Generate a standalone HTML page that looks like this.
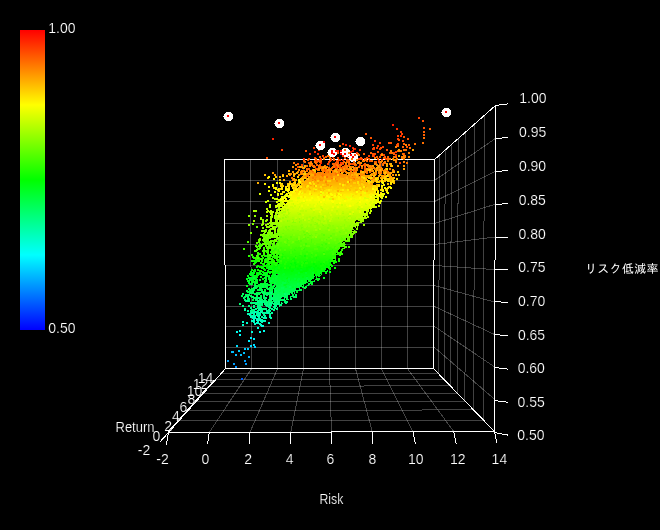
<!DOCTYPE html>
<html lang="ja"><head><meta charset="utf-8"><title>Risk / Return 3D scatter</title>
<style>
html,body{margin:0;padding:0;background:#000;}
body{width:660px;height:530px;overflow:hidden;}
svg{display:block;}
.grid line{stroke:#fff;stroke-opacity:.26;stroke-width:1;}
.frame line{stroke:#fff;stroke-width:1;}
.mk path{fill:#fff;}
.mk rect{fill:#f00;}
.tx text{fill:#fff;stroke:#000;stroke-width:.2px;font-family:"Liberation Sans","IPAGothic",sans-serif;font-size:14px;}
</style></head><body>
<svg width="660" height="530" viewBox="0 0 660 530" shape-rendering="crispEdges">
<defs><linearGradient id="cb" x1="0" y1="0" x2="0" y2="1">
<stop offset="0" stop-color="#f00"/><stop offset=".25" stop-color="#ff0"/><stop offset=".5" stop-color="#0f0"/><stop offset=".75" stop-color="#0ff"/><stop offset="1" stop-color="#00f"/>
</linearGradient></defs>
<rect width="660" height="530" fill="#000"/>
<rect x="20" y="30" width="25" height="300" fill="url(#cb)"/>
<g class="grid">
<line x1="250.5" y1="159.5" x2="251.5" y2="368.5"/>
<line x1="277.5" y1="159.5" x2="277.5" y2="368.5"/>
<line x1="303.5" y1="159.5" x2="303.5" y2="368.5"/>
<line x1="329.5" y1="159.5" x2="329.5" y2="368.5"/>
<line x1="355.5" y1="159.5" x2="355.5" y2="368.5"/>
<line x1="381.5" y1="159.5" x2="381.5" y2="368.5"/>
<line x1="407.5" y1="159.5" x2="407.5" y2="368.5"/>
<line x1="224.5" y1="180.5" x2="434.5" y2="180.5"/>
<line x1="224.5" y1="201.5" x2="434.5" y2="201.5"/>
<line x1="224.5" y1="223.5" x2="434.5" y2="223.5"/>
<line x1="224.5" y1="244.5" x2="434.5" y2="244.5"/>
<line x1="224.5" y1="265.5" x2="434.5" y2="265.5"/>
<line x1="224.5" y1="285.5" x2="434.5" y2="285.5"/>
<line x1="224.5" y1="306.5" x2="434.5" y2="306.5"/>
<line x1="224.5" y1="326.5" x2="434.5" y2="326.5"/>
<line x1="224.5" y1="347.5" x2="434.5" y2="347.5"/>
<line x1="251.6" y1="368.5" x2="209.3" y2="432.4"/>
<line x1="178.9" y1="420.8" x2="483.3" y2="420.0"/>
<line x1="277.6" y1="368.5" x2="250.0" y2="432.2"/>
<line x1="188.1" y1="410.5" x2="473.6" y2="409.9"/>
<line x1="303.5" y1="368.5" x2="290.8" y2="432.1"/>
<line x1="196.2" y1="401.5" x2="464.9" y2="401.0"/>
<line x1="329.5" y1="368.5" x2="331.5" y2="432.0"/>
<line x1="203.4" y1="393.4" x2="457.2" y2="393.0"/>
<line x1="355.5" y1="368.5" x2="372.3" y2="431.9"/>
<line x1="209.8" y1="386.2" x2="450.3" y2="385.9"/>
<line x1="381.4" y1="368.5" x2="413.0" y2="431.8"/>
<line x1="215.6" y1="379.7" x2="444.1" y2="379.6"/>
<line x1="407.4" y1="368.5" x2="453.8" y2="431.6"/>
<line x1="220.8" y1="373.8" x2="438.5" y2="373.8"/>
<line x1="484.4" y1="115.4" x2="483.3" y2="420.0"/>
<line x1="474.6" y1="124.0" x2="473.6" y2="409.9"/>
<line x1="466.0" y1="131.7" x2="464.9" y2="401.0"/>
<line x1="458.3" y1="138.5" x2="457.2" y2="393.0"/>
<line x1="451.5" y1="144.5" x2="450.3" y2="385.9"/>
<line x1="445.3" y1="150.0" x2="444.1" y2="379.6"/>
<line x1="439.7" y1="155.0" x2="438.5" y2="373.8"/>
<line x1="434.5" y1="180.5" x2="495.4" y2="138.5"/>
<line x1="434.5" y1="201.5" x2="495.3" y2="171.4"/>
<line x1="434.5" y1="223.5" x2="495.2" y2="204.2"/>
<line x1="434.5" y1="244.5" x2="495.1" y2="237.0"/>
<line x1="434.5" y1="265.5" x2="495.0" y2="269.6"/>
<line x1="434.5" y1="285.5" x2="494.9" y2="302.2"/>
<line x1="434.5" y1="306.5" x2="494.8" y2="334.6"/>
<line x1="434.5" y1="326.5" x2="494.7" y2="367.0"/>
<line x1="434.5" y1="347.5" x2="494.6" y2="399.3"/>
</g>
<g class="frame">
<line x1="224.4" y1="159.5" x2="434.6" y2="159.5"/>
<line x1="434.6" y1="159.5" x2="433.4" y2="368.5"/>
<line x1="433.4" y1="368.5" x2="225.6" y2="368.5"/>
<line x1="225.6" y1="368.5" x2="224.4" y2="159.5"/>
</g>
<g class="pts"><linearGradient id="cg" gradientUnits="userSpaceOnUse" x1="0" y1="150" x2="0" y2="340"><stop offset="0.0000" stop-color="#ff3a00"/><stop offset="0.0263" stop-color="#ff4600"/><stop offset="0.0526" stop-color="#ff5200"/><stop offset="0.0789" stop-color="#ff6500"/><stop offset="0.1053" stop-color="#ff7800"/><stop offset="0.1316" stop-color="#ff8d00"/><stop offset="0.1579" stop-color="#ffa400"/><stop offset="0.1842" stop-color="#ffbb00"/><stop offset="0.2105" stop-color="#ffd200"/><stop offset="0.2368" stop-color="#ffee00"/><stop offset="0.2632" stop-color="#f9ff00"/><stop offset="0.2895" stop-color="#e5ff00"/><stop offset="0.3158" stop-color="#d2ff00"/><stop offset="0.3421" stop-color="#bfff00"/><stop offset="0.3684" stop-color="#adff00"/><stop offset="0.3947" stop-color="#9bff00"/><stop offset="0.4211" stop-color="#89ff00"/><stop offset="0.4474" stop-color="#77ff00"/><stop offset="0.4737" stop-color="#64ff00"/><stop offset="0.5000" stop-color="#51ff00"/><stop offset="0.5263" stop-color="#3eff00"/><stop offset="0.5526" stop-color="#2cff00"/><stop offset="0.5789" stop-color="#1bff00"/><stop offset="0.6053" stop-color="#0aff00"/><stop offset="0.6316" stop-color="#00ff07"/><stop offset="0.6579" stop-color="#00ff17"/><stop offset="0.6842" stop-color="#00ff28"/><stop offset="0.7105" stop-color="#00ff39"/><stop offset="0.7368" stop-color="#00ff4a"/><stop offset="0.7632" stop-color="#00ff5a"/><stop offset="0.7895" stop-color="#00ff6b"/><stop offset="0.8158" stop-color="#00ff80"/><stop offset="0.8421" stop-color="#00ff96"/><stop offset="0.8684" stop-color="#00ffab"/><stop offset="0.8947" stop-color="#00ffc1"/><stop offset="0.9211" stop-color="#00ffd6"/><stop offset="0.9474" stop-color="#00ffeb"/><stop offset="0.9737" stop-color="#00fffe"/><stop offset="1.0000" stop-color="#00eeff"/></linearGradient>
<polygon fill="url(#cg)" points="325.0,173.0 340.0,173.0 358.0,177.0 372.0,185.0 376.0,197.0 372.0,208.0 368.0,213.0 360.0,222.5 352.0,235.5 343.0,249.0 335.0,260.5 325.0,273.0 312.0,282.0 303.0,286.5 293.0,295.5 282.0,303.5 277.5,307.5 275.0,306.0 273.0,300.0 274.0,292.0 276.0,285.0 278.0,274.7 279.0,258.0 279.0,241.3 278.0,224.7 281.0,208.0 287.0,203.0 292.0,195.0 298.0,187.0 306.0,179.0 318.0,172.0"/>
<path fill="#0060ff" d="M241 378h2v2h-2z"/>
<path fill="#008fff" d="M235 366h2v2h-2z"/>
<path fill="#009fff" d="M227 360h2v2h-2zM233 363h2v2h-2zM244 360h2v2h-2zM245 363h2v2h-2z"/>
<path fill="#00afff" d="M248 356h2v2h-2z"/>
<path fill="#00bfff" d="M231 351h2v2h-2zM232 351h2v2h-2zM235 354h2v2h-2zM240 354h2v2h-2zM243 352h2v2h-2z"/>
<path fill="#00cfff" d="M254 346h2v2h-2zM238 350h2v2h-2zM244 348h2v2h-2zM247 348h2v2h-2z"/>
<path fill="#00dfff" d="M236 345h2v2h-2zM250 345h2v2h-2zM253 344h2v2h-2z"/>
<path fill="#00efff" d="M250 337h2v2h-2zM253 338h2v2h-2zM248 340h2v2h-2z"/>
<path fill="#00ff00" d="M265 258h2v2h-2zM277 260h2v2h-2zM277 261h2v2h-2zM254 262h2v2h-2zM267 262h2v2h-2zM270 262h2v2h-2zM273 262h2v2h-2zM272 263h2v2h-2zM266 264h2v2h-2zM268 264h2v2h-2zM276 264h2v2h-2zM263 265h2v2h-2zM268 265h2v2h-2zM273 265h2v2h-2zM275 265h2v2h-2zM277 265h2v2h-2zM259 266h2v2h-2zM260 266h2v2h-2zM262 266h2v2h-2zM266 266h2v2h-2zM272 266h2v2h-2zM274 266h2v2h-2zM277 266h2v2h-2zM266 267h2v2h-2zM271 267h2v2h-2zM272 267h2v2h-2zM273 267h2v2h-2zM329 267h2v2h-2zM263 268h2v2h-2zM269 268h2v2h-2zM276 268h2v2h-2zM251 269h2v2h-2zM264 269h2v2h-2zM273 269h2v2h-2zM259 270h2v2h-2zM274 270h2v2h-2zM267 271h2v2h-2zM274 271h2v2h-2zM256 272h2v2h-2zM258 272h2v2h-2zM268 275h2v2h-2zM305 260h2v2h-2zM294 262h2v2h-2zM303 262h2v2h-2zM329 262h2v2h-2zM285 263h2v2h-2zM290 263h2v2h-2zM313 263h2v2h-2zM320 263h2v2h-2zM323 263h2v2h-2zM295 264h2v2h-2zM320 264h2v2h-2zM299 265h2v2h-2zM315 265h2v2h-2zM326 265h2v2h-2zM283 266h2v2h-2zM290 266h2v2h-2zM294 266h2v2h-2zM308 266h2v2h-2zM310 266h2v2h-2zM280 267h2v2h-2zM289 267h2v2h-2zM306 267h2v2h-2zM313 267h2v2h-2zM317 267h2v2h-2zM284 268h2v2h-2zM297 268h2v2h-2zM300 268h2v2h-2zM319 268h2v2h-2zM277 269h2v2h-2zM292 269h2v2h-2zM306 269h2v2h-2zM313 269h2v2h-2zM291 270h2v2h-2zM303 270h2v2h-2zM305 270h2v2h-2zM300 271h2v2h-2zM301 271h2v2h-2zM315 271h2v2h-2zM314 272h2v2h-2zM334 267h2v2h-2zM331 265h2v2h-2zM329 268h2v2h-2z"/>
<path fill="#00ff10" d="M271 262h2v2h-2zM271 265h2v2h-2zM256 266h2v2h-2zM268 267h2v2h-2zM276 267h2v2h-2zM268 268h2v2h-2zM270 268h2v2h-2zM275 268h2v2h-2zM254 269h2v2h-2zM326 269h2v2h-2zM253 270h2v2h-2zM254 270h2v2h-2zM267 270h2v2h-2zM273 270h2v2h-2zM250 271h2v2h-2zM259 271h2v2h-2zM262 271h2v2h-2zM268 271h2v2h-2zM253 272h2v2h-2zM257 272h2v2h-2zM259 272h2v2h-2zM263 272h2v2h-2zM265 272h2v2h-2zM269 272h2v2h-2zM273 272h2v2h-2zM275 272h2v2h-2zM276 272h2v2h-2zM259 273h2v2h-2zM260 273h2v2h-2zM266 273h2v2h-2zM272 273h2v2h-2zM252 274h2v2h-2zM256 274h2v2h-2zM257 274h2v2h-2zM263 274h2v2h-2zM247 275h2v2h-2zM254 275h2v2h-2zM267 275h2v2h-2zM272 275h2v2h-2zM273 275h2v2h-2zM256 276h2v2h-2zM253 278h2v2h-2zM262 278h2v2h-2zM272 281h2v2h-2zM278 264h2v2h-2zM292 266h2v2h-2zM311 267h2v2h-2zM324 267h2v2h-2zM312 268h2v2h-2zM294 269h2v2h-2zM300 269h2v2h-2zM309 269h2v2h-2zM321 269h2v2h-2zM282 270h2v2h-2zM295 270h2v2h-2zM297 270h2v2h-2zM321 270h2v2h-2zM279 271h2v2h-2zM294 271h2v2h-2zM304 272h2v2h-2zM290 273h2v2h-2zM299 273h2v2h-2zM316 273h2v2h-2zM319 274h2v2h-2zM302 276h2v2h-2zM306 276h2v2h-2zM286 277h2v2h-2zM311 280h2v2h-2zM329 271h2v2h-2zM325 272h2v2h-2z"/>
<path fill="#00ff20" d="M269 266h2v2h-2zM275 270h2v2h-2zM326 270h2v2h-2zM270 271h2v2h-2zM251 272h2v2h-2zM266 272h2v2h-2zM249 273h2v2h-2zM322 273h2v2h-2zM250 274h2v2h-2zM251 274h2v2h-2zM262 274h2v2h-2zM265 274h2v2h-2zM273 274h2v2h-2zM252 275h2v2h-2zM253 275h2v2h-2zM265 275h2v2h-2zM271 275h2v2h-2zM274 275h2v2h-2zM276 275h2v2h-2zM260 276h2v2h-2zM271 276h2v2h-2zM272 276h2v2h-2zM251 277h2v2h-2zM254 277h2v2h-2zM265 277h2v2h-2zM268 277h2v2h-2zM269 277h2v2h-2zM273 277h2v2h-2zM246 278h2v2h-2zM249 278h2v2h-2zM255 278h2v2h-2zM268 278h2v2h-2zM271 278h2v2h-2zM316 278h2v2h-2zM251 279h2v2h-2zM269 279h2v2h-2zM273 279h2v2h-2zM247 280h2v2h-2zM252 280h2v2h-2zM255 280h2v2h-2zM264 280h2v2h-2zM265 280h2v2h-2zM312 280h2v2h-2zM248 281h2v2h-2zM251 281h2v2h-2zM254 281h2v2h-2zM256 281h2v2h-2zM269 281h2v2h-2zM271 282h2v2h-2zM272 282h2v2h-2zM249 283h2v2h-2zM251 283h2v2h-2zM262 283h2v2h-2zM246 285h2v2h-2zM270 285h2v2h-2zM256 286h2v2h-2zM298 272h2v2h-2zM305 272h2v2h-2zM312 272h2v2h-2zM278 273h2v2h-2zM283 273h2v2h-2zM319 273h2v2h-2zM282 274h2v2h-2zM295 274h2v2h-2zM277 275h2v2h-2zM278 276h2v2h-2zM284 276h2v2h-2zM285 276h2v2h-2zM276 277h2v2h-2zM281 278h2v2h-2zM314 278h2v2h-2zM289 279h2v2h-2zM295 279h2v2h-2zM282 280h2v2h-2zM286 280h2v2h-2zM299 280h2v2h-2zM302 280h2v2h-2zM307 280h2v2h-2zM283 281h2v2h-2zM287 281h2v2h-2zM286 283h2v2h-2zM284 284h2v2h-2zM323 277h2v2h-2zM318 278h2v2h-2zM317 279h2v2h-2z"/>
<path fill="#00ff30" d="M274 274h2v2h-2zM268 276h2v2h-2zM276 276h2v2h-2zM248 277h2v2h-2zM250 277h2v2h-2zM264 277h2v2h-2zM275 277h2v2h-2zM272 278h2v2h-2zM275 278h2v2h-2zM249 279h2v2h-2zM256 279h2v2h-2zM259 279h2v2h-2zM265 279h2v2h-2zM272 279h2v2h-2zM272 280h2v2h-2zM274 280h2v2h-2zM275 280h2v2h-2zM313 280h2v2h-2zM252 281h2v2h-2zM270 281h2v2h-2zM275 281h2v2h-2zM311 281h2v2h-2zM248 282h2v2h-2zM254 282h2v2h-2zM256 282h2v2h-2zM264 282h2v2h-2zM270 282h2v2h-2zM309 282h2v2h-2zM254 283h2v2h-2zM263 283h2v2h-2zM265 283h2v2h-2zM274 283h2v2h-2zM258 284h2v2h-2zM264 284h2v2h-2zM268 284h2v2h-2zM258 285h2v2h-2zM260 285h2v2h-2zM266 285h2v2h-2zM264 286h2v2h-2zM270 286h2v2h-2zM260 287h2v2h-2zM271 287h2v2h-2zM268 288h2v2h-2zM296 291h2v2h-2zM313 276h2v2h-2zM306 277h2v2h-2zM288 278h2v2h-2zM294 278h2v2h-2zM298 278h2v2h-2zM297 279h2v2h-2zM307 279h2v2h-2zM276 280h2v2h-2zM279 280h2v2h-2zM285 280h2v2h-2zM288 280h2v2h-2zM301 280h2v2h-2zM282 281h2v2h-2zM290 281h2v2h-2zM301 281h2v2h-2zM305 281h2v2h-2zM285 282h2v2h-2zM286 282h2v2h-2zM281 283h2v2h-2zM282 284h2v2h-2zM287 284h2v2h-2zM302 284h2v2h-2zM304 284h2v2h-2zM285 286h2v2h-2zM292 286h2v2h-2zM295 286h2v2h-2zM311 283h2v2h-2z"/>
<path fill="#00ff40" d="M253 277h2v2h-2zM270 280h2v2h-2zM274 282h2v2h-2zM250 283h2v2h-2zM260 283h2v2h-2zM266 283h2v2h-2zM308 283h2v2h-2zM262 284h2v2h-2zM270 284h2v2h-2zM256 285h2v2h-2zM273 285h2v2h-2zM265 286h2v2h-2zM266 286h2v2h-2zM272 286h2v2h-2zM302 286h2v2h-2zM266 287h2v2h-2zM269 287h2v2h-2zM272 287h2v2h-2zM248 288h2v2h-2zM251 288h2v2h-2zM252 288h2v2h-2zM269 288h2v2h-2zM250 289h2v2h-2zM253 289h2v2h-2zM257 289h2v2h-2zM260 289h2v2h-2zM264 289h2v2h-2zM271 289h2v2h-2zM251 290h2v2h-2zM264 290h2v2h-2zM247 291h2v2h-2zM251 291h2v2h-2zM256 292h2v2h-2zM262 292h2v2h-2zM264 292h2v2h-2zM272 293h2v2h-2zM282 282h2v2h-2zM284 282h2v2h-2zM297 283h2v2h-2zM281 284h2v2h-2zM300 284h2v2h-2zM278 285h2v2h-2zM287 285h2v2h-2zM294 285h2v2h-2zM282 286h2v2h-2zM277 287h2v2h-2zM289 287h2v2h-2zM290 287h2v2h-2zM294 289h2v2h-2zM279 290h2v2h-2zM283 291h2v2h-2zM307 284h2v2h-2zM305 286h2v2h-2zM304 287h2v2h-2z"/>
<path fill="#00ff50" d="M254 285h2v2h-2zM265 285h2v2h-2zM262 286h2v2h-2zM255 287h2v2h-2zM259 287h2v2h-2zM267 288h2v2h-2zM259 289h2v2h-2zM261 289h2v2h-2zM269 289h2v2h-2zM298 289h2v2h-2zM246 290h2v2h-2zM249 290h2v2h-2zM269 290h2v2h-2zM262 291h2v2h-2zM264 291h2v2h-2zM270 291h2v2h-2zM249 292h2v2h-2zM252 292h2v2h-2zM257 292h2v2h-2zM259 292h2v2h-2zM265 292h2v2h-2zM267 292h2v2h-2zM254 293h2v2h-2zM257 293h2v2h-2zM258 293h2v2h-2zM266 294h2v2h-2zM292 294h2v2h-2zM241 295h2v2h-2zM260 295h2v2h-2zM244 296h2v2h-2zM251 296h2v2h-2zM256 296h2v2h-2zM260 296h2v2h-2zM253 297h2v2h-2zM263 297h2v2h-2zM269 297h2v2h-2zM287 298h2v2h-2zM252 299h2v2h-2zM289 286h2v2h-2zM281 287h2v2h-2zM282 287h2v2h-2zM274 288h2v2h-2zM278 289h2v2h-2zM291 289h2v2h-2zM288 290h2v2h-2zM290 290h2v2h-2zM288 291h2v2h-2zM291 291h2v2h-2zM280 292h2v2h-2zM291 292h2v2h-2zM275 293h2v2h-2zM283 293h2v2h-2zM290 293h2v2h-2zM280 294h2v2h-2zM283 294h2v2h-2zM290 295h2v2h-2zM300 289h2v2h-2z"/>
<path fill="#00ff60" d="M253 287h2v2h-2zM252 290h2v2h-2zM261 291h2v2h-2zM271 291h2v2h-2zM250 292h2v2h-2zM263 292h2v2h-2zM269 292h2v2h-2zM242 293h2v2h-2zM255 293h2v2h-2zM265 293h2v2h-2zM268 293h2v2h-2zM270 293h2v2h-2zM245 294h2v2h-2zM247 294h2v2h-2zM248 294h2v2h-2zM256 294h2v2h-2zM263 294h2v2h-2zM270 294h2v2h-2zM245 295h2v2h-2zM250 295h2v2h-2zM269 295h2v2h-2zM291 295h2v2h-2zM263 296h2v2h-2zM260 297h2v2h-2zM264 297h2v2h-2zM270 297h2v2h-2zM247 299h2v2h-2zM268 299h2v2h-2zM260 300h2v2h-2zM265 300h2v2h-2zM270 300h2v2h-2zM266 301h2v2h-2zM271 301h2v2h-2zM255 303h2v2h-2zM275 290h2v2h-2zM294 290h2v2h-2zM293 292h2v2h-2zM286 293h2v2h-2zM273 294h2v2h-2zM277 294h2v2h-2zM285 294h2v2h-2zM281 295h2v2h-2zM281 296h2v2h-2zM278 297h2v2h-2zM278 298h2v2h-2zM279 298h2v2h-2zM281 298h2v2h-2zM279 299h2v2h-2zM280 299h2v2h-2zM277 302h2v2h-2zM295 294h2v2h-2zM295 296h2v2h-2zM293 296h2v2h-2zM290 298h2v2h-2z"/>
<path fill="#00ff70" d="M267 293h2v2h-2zM270 295h2v2h-2zM247 296h2v2h-2zM252 296h2v2h-2zM243 297h2v2h-2zM247 297h2v2h-2zM255 297h2v2h-2zM271 297h2v2h-2zM248 298h2v2h-2zM256 298h2v2h-2zM255 299h2v2h-2zM256 299h2v2h-2zM259 299h2v2h-2zM261 299h2v2h-2zM264 299h2v2h-2zM269 299h2v2h-2zM270 299h2v2h-2zM248 300h2v2h-2zM268 300h2v2h-2zM284 300h2v2h-2zM258 301h2v2h-2zM265 301h2v2h-2zM268 301h2v2h-2zM283 301h2v2h-2zM251 302h2v2h-2zM260 302h2v2h-2zM267 302h2v2h-2zM281 302h2v2h-2zM239 303h2v2h-2zM260 303h2v2h-2zM267 303h2v2h-2zM261 304h2v2h-2zM267 305h2v2h-2zM284 293h2v2h-2zM283 296h2v2h-2zM284 299h2v2h-2zM278 300h2v2h-2zM279 300h2v2h-2zM275 302h2v2h-2zM279 302h2v2h-2zM286 301h2v2h-2z"/>
<path fill="#00ff80" d="M270 292h2v2h-2zM258 297h2v2h-2zM265 297h2v2h-2zM289 297h2v2h-2zM271 298h2v2h-2zM244 299h2v2h-2zM245 300h2v2h-2zM257 300h2v2h-2zM263 300h2v2h-2zM259 301h2v2h-2zM261 301h2v2h-2zM263 301h2v2h-2zM250 302h2v2h-2zM253 302h2v2h-2zM255 302h2v2h-2zM256 302h2v2h-2zM266 302h2v2h-2zM269 302h2v2h-2zM271 302h2v2h-2zM258 303h2v2h-2zM261 303h2v2h-2zM264 303h2v2h-2zM266 303h2v2h-2zM280 303h2v2h-2zM257 304h2v2h-2zM265 304h2v2h-2zM270 304h2v2h-2zM242 305h2v2h-2zM248 305h2v2h-2zM278 305h2v2h-2zM257 307h2v2h-2zM274 307h2v2h-2zM260 308h2v2h-2zM262 308h2v2h-2zM264 308h2v2h-2zM251 309h2v2h-2zM252 309h2v2h-2zM275 301h2v2h-2zM278 301h2v2h-2zM273 303h2v2h-2zM278 303h2v2h-2zM285 302h2v2h-2zM280 304h2v2h-2z"/>
<path fill="#00ff8f" d="M247 300h2v2h-2zM257 301h2v2h-2zM260 301h2v2h-2zM270 303h2v2h-2zM269 304h2v2h-2zM253 305h2v2h-2zM259 305h2v2h-2zM266 305h2v2h-2zM269 305h2v2h-2zM274 305h2v2h-2zM253 306h2v2h-2zM257 306h2v2h-2zM259 306h2v2h-2zM268 306h2v2h-2zM273 306h2v2h-2zM250 307h2v2h-2zM259 307h2v2h-2zM260 307h2v2h-2zM269 307h2v2h-2zM244 308h2v2h-2zM255 308h2v2h-2zM265 308h2v2h-2zM271 308h2v2h-2zM276 308h2v2h-2zM253 309h2v2h-2zM260 309h2v2h-2zM268 309h2v2h-2zM273 309h2v2h-2zM250 310h2v2h-2zM253 310h2v2h-2zM257 310h2v2h-2zM252 311h2v2h-2zM268 311h2v2h-2zM269 313h2v2h-2zM277 303h2v2h-2zM275 305h2v2h-2z"/>
<path fill="#00ff9f" d="M259 308h2v2h-2zM244 309h2v2h-2zM258 309h2v2h-2zM247 310h2v2h-2zM261 310h2v2h-2zM266 310h2v2h-2zM269 310h2v2h-2zM256 311h2v2h-2zM250 312h2v2h-2zM253 312h2v2h-2zM258 312h2v2h-2zM262 312h2v2h-2zM264 312h2v2h-2zM265 312h2v2h-2zM271 312h2v2h-2zM256 313h2v2h-2zM256 314h2v2h-2zM263 314h2v2h-2zM250 315h2v2h-2zM253 315h2v2h-2zM254 315h2v2h-2zM264 315h2v2h-2zM251 316h2v2h-2zM261 316h2v2h-2zM270 317h2v2h-2z"/>
<path fill="#00ffaf" d="M260 311h2v2h-2zM251 312h2v2h-2zM257 312h2v2h-2zM259 312h2v2h-2zM247 313h2v2h-2zM249 313h2v2h-2zM253 313h2v2h-2zM259 313h2v2h-2zM258 314h2v2h-2zM259 314h2v2h-2zM252 315h2v2h-2zM257 315h2v2h-2zM269 315h2v2h-2zM258 317h2v2h-2zM265 317h2v2h-2zM256 318h2v2h-2zM259 318h2v2h-2zM258 319h2v2h-2zM261 319h2v2h-2zM252 317h2v2h-2z"/>
<path fill="#00ffbf" d="M254 311h2v2h-2zM267 312h2v2h-2zM249 314h2v2h-2zM258 315h2v2h-2zM250 316h2v2h-2zM253 316h2v2h-2zM269 316h2v2h-2zM252 317h2v2h-2zM263 317h2v2h-2zM251 320h2v2h-2zM253 320h2v2h-2zM257 320h2v2h-2zM260 320h2v2h-2zM262 320h2v2h-2zM263 320h2v2h-2zM264 320h2v2h-2zM253 321h2v2h-2zM261 321h2v2h-2zM259 323h2v2h-2z"/>
<path fill="#00ffcf" d="M254 317h2v2h-2zM253 319h2v2h-2zM256 319h2v2h-2zM257 322h2v2h-2zM254 323h2v2h-2zM242 324h2v2h-2zM260 324h2v2h-2zM262 325h2v2h-2zM242 321h2v2h-2zM246 322h2v2h-2zM256 322h2v2h-2zM268 322h2v2h-2z"/>
<path fill="#00ffdf" d="M261 325h2v2h-2zM251 331h2v2h-2zM257 327h2v2h-2z"/>
<path fill="#00ffef" d="M259 331h2v2h-2zM263 330h2v2h-2zM239 330h2v2h-2zM236 331h2v2h-2z"/>
<path fill="#00ffff" d="M239 334h2v2h-2z"/>
<path fill="#10ff00" d="M271 253h2v2h-2zM265 255h2v2h-2zM258 257h2v2h-2zM268 257h2v2h-2zM256 258h2v2h-2zM261 258h2v2h-2zM257 259h2v2h-2zM258 259h2v2h-2zM264 259h2v2h-2zM253 260h2v2h-2zM255 260h2v2h-2zM261 260h2v2h-2zM264 260h2v2h-2zM267 260h2v2h-2zM271 260h2v2h-2zM273 260h2v2h-2zM255 261h2v2h-2zM267 261h2v2h-2zM269 261h2v2h-2zM333 261h2v2h-2zM268 262h2v2h-2zM269 262h2v2h-2zM274 262h2v2h-2zM275 262h2v2h-2zM262 263h2v2h-2zM263 263h2v2h-2zM271 263h2v2h-2zM273 263h2v2h-2zM271 264h2v2h-2zM257 265h2v2h-2zM264 265h2v2h-2zM270 265h2v2h-2zM270 266h2v2h-2zM261 267h2v2h-2zM257 269h2v2h-2zM272 269h2v2h-2zM260 270h2v2h-2zM272 270h2v2h-2zM276 270h2v2h-2zM271 271h2v2h-2zM304 255h2v2h-2zM282 256h2v2h-2zM294 256h2v2h-2zM316 257h2v2h-2zM293 258h2v2h-2zM279 259h2v2h-2zM291 259h2v2h-2zM329 259h2v2h-2zM294 260h2v2h-2zM306 260h2v2h-2zM328 260h2v2h-2zM302 261h2v2h-2zM306 261h2v2h-2zM310 261h2v2h-2zM318 261h2v2h-2zM325 261h2v2h-2zM331 261h2v2h-2zM296 262h2v2h-2zM300 262h2v2h-2zM307 262h2v2h-2zM324 262h2v2h-2zM286 263h2v2h-2zM304 263h2v2h-2zM306 263h2v2h-2zM289 264h2v2h-2zM322 264h2v2h-2zM283 265h2v2h-2zM284 265h2v2h-2zM296 265h2v2h-2zM304 265h2v2h-2zM320 265h2v2h-2zM278 266h2v2h-2zM291 266h2v2h-2zM293 266h2v2h-2zM301 266h2v2h-2zM278 267h2v2h-2zM287 267h2v2h-2zM327 267h2v2h-2zM321 268h2v2h-2zM335 261h2v2h-2zM333 262h2v2h-2z"/>
<path fill="#20ff00" d="M267 250h2v2h-2zM339 252h2v2h-2zM276 253h2v2h-2zM277 253h2v2h-2zM263 254h2v2h-2zM257 255h2v2h-2zM264 255h2v2h-2zM270 255h2v2h-2zM273 255h2v2h-2zM275 255h2v2h-2zM252 256h2v2h-2zM256 256h2v2h-2zM272 256h2v2h-2zM277 256h2v2h-2zM253 257h2v2h-2zM256 257h2v2h-2zM262 257h2v2h-2zM267 257h2v2h-2zM269 257h2v2h-2zM274 257h2v2h-2zM276 257h2v2h-2zM255 258h2v2h-2zM259 258h2v2h-2zM270 258h2v2h-2zM261 259h2v2h-2zM265 259h2v2h-2zM267 259h2v2h-2zM271 259h2v2h-2zM272 259h2v2h-2zM276 259h2v2h-2zM277 259h2v2h-2zM334 259h2v2h-2zM251 260h2v2h-2zM257 260h2v2h-2zM338 260h2v2h-2zM264 261h2v2h-2zM266 261h2v2h-2zM271 261h2v2h-2zM272 261h2v2h-2zM260 262h2v2h-2zM276 262h2v2h-2zM253 263h2v2h-2zM268 263h2v2h-2zM274 263h2v2h-2zM275 264h2v2h-2zM340 247h2v2h-2zM323 252h2v2h-2zM326 252h2v2h-2zM278 253h2v2h-2zM282 253h2v2h-2zM311 253h2v2h-2zM299 254h2v2h-2zM324 254h2v2h-2zM334 255h2v2h-2zM335 255h2v2h-2zM280 256h2v2h-2zM283 256h2v2h-2zM284 256h2v2h-2zM293 256h2v2h-2zM301 256h2v2h-2zM317 256h2v2h-2zM309 257h2v2h-2zM314 257h2v2h-2zM317 257h2v2h-2zM290 258h2v2h-2zM317 258h2v2h-2zM287 259h2v2h-2zM305 259h2v2h-2zM326 259h2v2h-2zM292 260h2v2h-2zM285 261h2v2h-2zM297 261h2v2h-2zM301 261h2v2h-2zM311 261h2v2h-2zM314 261h2v2h-2zM323 261h2v2h-2zM280 262h2v2h-2zM302 262h2v2h-2zM305 262h2v2h-2zM306 262h2v2h-2zM284 263h2v2h-2zM301 264h2v2h-2zM284 267h2v2h-2zM338 258h2v2h-2z"/>
<path fill="#30ff00" d="M259 245h2v2h-2zM271 246h2v2h-2zM258 248h2v2h-2zM274 248h2v2h-2zM277 248h2v2h-2zM341 249h2v2h-2zM255 250h2v2h-2zM264 250h2v2h-2zM266 250h2v2h-2zM272 250h2v2h-2zM273 250h2v2h-2zM277 250h2v2h-2zM270 251h2v2h-2zM340 251h2v2h-2zM267 252h2v2h-2zM275 252h2v2h-2zM257 253h2v2h-2zM258 253h2v2h-2zM259 253h2v2h-2zM267 253h2v2h-2zM273 253h2v2h-2zM251 254h2v2h-2zM268 254h2v2h-2zM273 254h2v2h-2zM276 254h2v2h-2zM248 255h2v2h-2zM261 255h2v2h-2zM267 255h2v2h-2zM267 256h2v2h-2zM268 256h2v2h-2zM276 256h2v2h-2zM255 257h2v2h-2zM260 258h2v2h-2zM271 258h2v2h-2zM276 258h2v2h-2zM258 260h2v2h-2zM273 261h2v2h-2zM303 248h2v2h-2zM294 249h2v2h-2zM331 249h2v2h-2zM284 250h2v2h-2zM289 250h2v2h-2zM329 250h2v2h-2zM290 251h2v2h-2zM291 251h2v2h-2zM306 251h2v2h-2zM326 251h2v2h-2zM327 251h2v2h-2zM336 251h2v2h-2zM283 252h2v2h-2zM289 252h2v2h-2zM301 252h2v2h-2zM316 252h2v2h-2zM335 252h2v2h-2zM294 253h2v2h-2zM299 253h2v2h-2zM312 253h2v2h-2zM324 253h2v2h-2zM326 253h2v2h-2zM290 254h2v2h-2zM291 254h2v2h-2zM296 254h2v2h-2zM293 255h2v2h-2zM314 255h2v2h-2zM279 256h2v2h-2zM311 256h2v2h-2zM283 257h2v2h-2zM287 257h2v2h-2zM295 257h2v2h-2zM306 257h2v2h-2zM332 257h2v2h-2zM334 257h2v2h-2zM280 260h2v2h-2zM341 253h2v2h-2zM339 254h2v2h-2z"/>
<path fill="#40ff00" d="M348 240h2v2h-2zM277 241h2v2h-2zM265 242h2v2h-2zM259 243h2v2h-2zM260 245h2v2h-2zM277 245h2v2h-2zM256 246h2v2h-2zM268 246h2v2h-2zM270 246h2v2h-2zM272 246h2v2h-2zM276 246h2v2h-2zM263 247h2v2h-2zM266 247h2v2h-2zM270 247h2v2h-2zM273 247h2v2h-2zM243 248h2v2h-2zM257 248h2v2h-2zM267 248h2v2h-2zM276 248h2v2h-2zM267 249h2v2h-2zM271 249h2v2h-2zM276 249h2v2h-2zM254 250h2v2h-2zM262 250h2v2h-2zM275 250h2v2h-2zM276 250h2v2h-2zM266 251h2v2h-2zM267 251h2v2h-2zM274 251h2v2h-2zM257 252h2v2h-2zM263 252h2v2h-2zM272 252h2v2h-2zM274 252h2v2h-2zM277 252h2v2h-2zM340 252h2v2h-2zM263 253h2v2h-2zM256 255h2v2h-2zM268 258h2v2h-2zM338 242h2v2h-2zM285 243h2v2h-2zM305 243h2v2h-2zM325 243h2v2h-2zM321 244h2v2h-2zM319 245h2v2h-2zM317 246h2v2h-2zM333 246h2v2h-2zM335 246h2v2h-2zM280 247h2v2h-2zM295 247h2v2h-2zM298 247h2v2h-2zM305 247h2v2h-2zM318 247h2v2h-2zM320 247h2v2h-2zM321 247h2v2h-2zM325 247h2v2h-2zM329 247h2v2h-2zM336 247h2v2h-2zM339 247h2v2h-2zM341 247h2v2h-2zM295 248h2v2h-2zM296 248h2v2h-2zM299 248h2v2h-2zM305 248h2v2h-2zM317 248h2v2h-2zM325 248h2v2h-2zM329 248h2v2h-2zM330 248h2v2h-2zM335 248h2v2h-2zM289 249h2v2h-2zM311 249h2v2h-2zM312 249h2v2h-2zM313 249h2v2h-2zM322 249h2v2h-2zM290 250h2v2h-2zM308 250h2v2h-2zM310 250h2v2h-2zM317 250h2v2h-2zM300 251h2v2h-2zM290 252h2v2h-2zM311 252h2v2h-2zM300 253h2v2h-2zM306 253h2v2h-2zM332 253h2v2h-2zM280 254h2v2h-2zM315 254h2v2h-2z"/>
<path fill="#50ff00" d="M269 235h2v2h-2zM258 240h2v2h-2zM263 240h2v2h-2zM267 240h2v2h-2zM273 240h2v2h-2zM247 241h2v2h-2zM267 241h2v2h-2zM270 242h2v2h-2zM262 243h2v2h-2zM266 243h2v2h-2zM268 243h2v2h-2zM273 243h2v2h-2zM276 243h2v2h-2zM261 244h2v2h-2zM269 244h2v2h-2zM273 244h2v2h-2zM255 245h2v2h-2zM258 245h2v2h-2zM268 245h2v2h-2zM269 245h2v2h-2zM272 245h2v2h-2zM275 245h2v2h-2zM266 246h2v2h-2zM274 246h2v2h-2zM277 246h2v2h-2zM259 247h2v2h-2zM267 247h2v2h-2zM268 247h2v2h-2zM271 247h2v2h-2zM277 247h2v2h-2zM343 247h2v2h-2zM272 248h2v2h-2zM256 249h2v2h-2zM263 249h2v2h-2zM275 251h2v2h-2zM269 254h2v2h-2zM257 257h2v2h-2zM280 236h2v2h-2zM287 239h2v2h-2zM297 239h2v2h-2zM311 239h2v2h-2zM325 239h2v2h-2zM300 240h2v2h-2zM286 241h2v2h-2zM295 241h2v2h-2zM297 241h2v2h-2zM311 241h2v2h-2zM338 241h2v2h-2zM280 242h2v2h-2zM296 242h2v2h-2zM298 242h2v2h-2zM323 242h2v2h-2zM280 243h2v2h-2zM284 243h2v2h-2zM328 243h2v2h-2zM284 244h2v2h-2zM291 244h2v2h-2zM317 244h2v2h-2zM318 244h2v2h-2zM330 244h2v2h-2zM337 244h2v2h-2zM339 244h2v2h-2zM343 244h2v2h-2zM290 245h2v2h-2zM314 245h2v2h-2zM320 245h2v2h-2zM336 245h2v2h-2zM337 245h2v2h-2zM324 246h2v2h-2zM332 246h2v2h-2zM336 246h2v2h-2zM339 246h2v2h-2zM290 247h2v2h-2zM302 247h2v2h-2zM327 247h2v2h-2zM335 247h2v2h-2zM301 248h2v2h-2zM314 248h2v2h-2zM316 248h2v2h-2zM326 248h2v2h-2zM279 249h2v2h-2zM284 249h2v2h-2zM323 253h2v2h-2zM348 246h2v2h-2zM345 246h2v2h-2zM344 246h2v2h-2z"/>
<path fill="#60ff00" d="M265 234h2v2h-2zM277 234h2v2h-2zM350 236h2v2h-2zM263 237h2v2h-2zM268 237h2v2h-2zM276 237h2v2h-2zM264 238h2v2h-2zM277 238h2v2h-2zM264 239h2v2h-2zM267 239h2v2h-2zM266 240h2v2h-2zM272 240h2v2h-2zM274 240h2v2h-2zM258 241h2v2h-2zM264 241h2v2h-2zM273 241h2v2h-2zM256 242h2v2h-2zM265 243h2v2h-2zM267 243h2v2h-2zM272 243h2v2h-2zM277 243h2v2h-2zM277 244h2v2h-2zM265 245h2v2h-2zM304 234h2v2h-2zM309 234h2v2h-2zM323 234h2v2h-2zM330 235h2v2h-2zM290 236h2v2h-2zM304 237h2v2h-2zM307 237h2v2h-2zM327 237h2v2h-2zM328 237h2v2h-2zM341 237h2v2h-2zM285 238h2v2h-2zM296 238h2v2h-2zM302 238h2v2h-2zM336 238h2v2h-2zM278 239h2v2h-2zM283 239h2v2h-2zM296 239h2v2h-2zM305 239h2v2h-2zM312 239h2v2h-2zM319 239h2v2h-2zM329 239h2v2h-2zM341 239h2v2h-2zM285 240h2v2h-2zM289 240h2v2h-2zM292 240h2v2h-2zM305 240h2v2h-2zM308 240h2v2h-2zM314 240h2v2h-2zM316 240h2v2h-2zM319 240h2v2h-2zM325 240h2v2h-2zM327 240h2v2h-2zM334 240h2v2h-2zM337 240h2v2h-2zM312 241h2v2h-2zM315 241h2v2h-2zM316 241h2v2h-2zM318 241h2v2h-2zM327 241h2v2h-2zM328 241h2v2h-2zM337 241h2v2h-2zM345 241h2v2h-2zM285 242h2v2h-2zM291 242h2v2h-2zM335 242h2v2h-2zM314 243h2v2h-2zM288 244h2v2h-2zM303 244h2v2h-2zM300 245h2v2h-2zM306 245h2v2h-2zM308 245h2v2h-2z"/>
<path fill="#70ff00" d="M256 226h2v2h-2zM271 228h2v2h-2zM265 229h2v2h-2zM263 230h2v2h-2zM268 230h2v2h-2zM269 232h2v2h-2zM277 232h2v2h-2zM275 233h2v2h-2zM271 234h2v2h-2zM275 234h2v2h-2zM262 235h2v2h-2zM263 235h2v2h-2zM275 235h2v2h-2zM265 236h2v2h-2zM266 236h2v2h-2zM268 236h2v2h-2zM273 236h2v2h-2zM351 236h2v2h-2zM269 237h2v2h-2zM266 238h2v2h-2zM258 239h2v2h-2zM262 239h2v2h-2zM274 239h2v2h-2zM275 239h2v2h-2zM348 239h2v2h-2zM270 240h2v2h-2zM269 241h2v2h-2zM263 243h2v2h-2zM303 231h2v2h-2zM339 231h2v2h-2zM306 232h2v2h-2zM307 232h2v2h-2zM315 232h2v2h-2zM351 232h2v2h-2zM282 233h2v2h-2zM308 233h2v2h-2zM321 233h2v2h-2zM332 233h2v2h-2zM333 233h2v2h-2zM292 234h2v2h-2zM311 234h2v2h-2zM321 234h2v2h-2zM343 234h2v2h-2zM282 235h2v2h-2zM285 235h2v2h-2zM304 235h2v2h-2zM317 235h2v2h-2zM318 235h2v2h-2zM342 235h2v2h-2zM292 236h2v2h-2zM310 236h2v2h-2zM339 236h2v2h-2zM342 236h2v2h-2zM348 236h2v2h-2zM301 237h2v2h-2zM325 237h2v2h-2zM326 237h2v2h-2zM346 237h2v2h-2zM288 238h2v2h-2zM307 238h2v2h-2zM328 238h2v2h-2zM347 238h2v2h-2zM321 239h2v2h-2zM324 239h2v2h-2zM334 239h2v2h-2zM339 240h2v2h-2zM284 241h2v2h-2zM292 241h2v2h-2zM328 242h2v2h-2zM351 235h2v2h-2zM351 236h2v2h-2z"/>
<path fill="#80ff00" d="M271 222h2v2h-2zM252 223h2v2h-2zM261 224h2v2h-2zM270 224h2v2h-2zM276 225h2v2h-2zM262 227h2v2h-2zM273 228h2v2h-2zM265 230h2v2h-2zM250 232h2v2h-2zM267 232h2v2h-2zM274 232h2v2h-2zM263 233h2v2h-2zM268 233h2v2h-2zM270 233h2v2h-2zM277 233h2v2h-2zM352 233h2v2h-2zM260 234h2v2h-2zM261 234h2v2h-2zM266 234h2v2h-2zM267 234h2v2h-2zM270 234h2v2h-2zM273 234h2v2h-2zM274 234h2v2h-2zM351 234h2v2h-2zM271 236h2v2h-2zM274 236h2v2h-2zM277 237h2v2h-2zM259 238h2v2h-2zM263 238h2v2h-2zM259 239h2v2h-2zM275 240h2v2h-2zM322 224h2v2h-2zM285 226h2v2h-2zM288 226h2v2h-2zM285 227h2v2h-2zM301 227h2v2h-2zM327 227h2v2h-2zM277 229h2v2h-2zM278 229h2v2h-2zM283 229h2v2h-2zM287 229h2v2h-2zM292 229h2v2h-2zM297 229h2v2h-2zM302 229h2v2h-2zM318 229h2v2h-2zM333 229h2v2h-2zM345 229h2v2h-2zM352 229h2v2h-2zM353 229h2v2h-2zM288 230h2v2h-2zM316 230h2v2h-2zM319 230h2v2h-2zM325 230h2v2h-2zM326 230h2v2h-2zM340 230h2v2h-2zM343 230h2v2h-2zM346 230h2v2h-2zM285 231h2v2h-2zM288 231h2v2h-2zM290 231h2v2h-2zM299 231h2v2h-2zM301 231h2v2h-2zM315 231h2v2h-2zM317 231h2v2h-2zM321 231h2v2h-2zM280 232h2v2h-2zM318 232h2v2h-2zM319 232h2v2h-2zM278 233h2v2h-2zM299 233h2v2h-2zM309 233h2v2h-2zM312 233h2v2h-2zM340 233h2v2h-2zM341 233h2v2h-2zM343 233h2v2h-2zM348 233h2v2h-2zM282 234h2v2h-2zM293 234h2v2h-2zM313 234h2v2h-2zM316 234h2v2h-2zM335 234h2v2h-2zM313 235h2v2h-2zM298 236h2v2h-2zM303 236h2v2h-2zM312 236h2v2h-2zM330 237h2v2h-2zM298 238h2v2h-2zM355 231h2v2h-2zM354 231h2v2h-2zM353 232h2v2h-2z"/>
<path fill="#8fff00" d="M248 215h2v2h-2zM254 215h2v2h-2zM271 216h2v2h-2zM260 217h2v2h-2zM270 217h2v2h-2zM275 217h2v2h-2zM262 219h2v2h-2zM265 220h2v2h-2zM262 221h2v2h-2zM273 223h2v2h-2zM276 223h2v2h-2zM248 224h2v2h-2zM357 224h2v2h-2zM269 225h2v2h-2zM271 225h2v2h-2zM266 226h2v2h-2zM268 226h2v2h-2zM273 226h2v2h-2zM274 226h2v2h-2zM275 226h2v2h-2zM356 226h2v2h-2zM274 227h2v2h-2zM270 228h2v2h-2zM269 229h2v2h-2zM261 230h2v2h-2zM264 230h2v2h-2zM274 230h2v2h-2zM277 230h2v2h-2zM264 231h2v2h-2zM269 231h2v2h-2zM271 232h2v2h-2zM276 235h2v2h-2zM287 220h2v2h-2zM292 221h2v2h-2zM294 221h2v2h-2zM299 221h2v2h-2zM314 221h2v2h-2zM328 221h2v2h-2zM316 223h2v2h-2zM317 223h2v2h-2zM301 224h2v2h-2zM302 224h2v2h-2zM310 224h2v2h-2zM314 224h2v2h-2zM321 224h2v2h-2zM328 224h2v2h-2zM344 224h2v2h-2zM354 224h2v2h-2zM291 225h2v2h-2zM300 225h2v2h-2zM317 225h2v2h-2zM329 225h2v2h-2zM332 225h2v2h-2zM340 225h2v2h-2zM349 225h2v2h-2zM353 225h2v2h-2zM281 226h2v2h-2zM292 226h2v2h-2zM293 226h2v2h-2zM295 226h2v2h-2zM306 226h2v2h-2zM324 226h2v2h-2zM337 226h2v2h-2zM288 227h2v2h-2zM304 227h2v2h-2zM323 227h2v2h-2zM333 227h2v2h-2zM279 228h2v2h-2zM280 228h2v2h-2zM284 228h2v2h-2zM297 228h2v2h-2zM302 228h2v2h-2zM315 228h2v2h-2zM329 228h2v2h-2zM349 228h2v2h-2zM299 229h2v2h-2zM308 229h2v2h-2zM313 229h2v2h-2zM316 229h2v2h-2zM337 229h2v2h-2zM343 229h2v2h-2zM348 229h2v2h-2zM336 230h2v2h-2zM308 231h2v2h-2zM345 232h2v2h-2zM315 236h2v2h-2zM356 228h2v2h-2z"/>
<path fill="#9fff00" d="M255 210h2v2h-2zM274 215h2v2h-2zM270 216h2v2h-2zM276 216h2v2h-2zM270 218h2v2h-2zM276 218h2v2h-2zM266 219h2v2h-2zM275 219h2v2h-2zM276 219h2v2h-2zM253 220h2v2h-2zM362 220h2v2h-2zM275 221h2v2h-2zM276 221h2v2h-2zM360 221h2v2h-2zM269 222h2v2h-2zM272 222h2v2h-2zM274 222h2v2h-2zM276 222h2v2h-2zM262 223h2v2h-2zM267 223h2v2h-2zM271 223h2v2h-2zM275 223h2v2h-2zM265 224h2v2h-2zM271 224h2v2h-2zM363 224h2v2h-2zM274 229h2v2h-2zM285 216h2v2h-2zM322 216h2v2h-2zM348 216h2v2h-2zM278 217h2v2h-2zM282 217h2v2h-2zM312 217h2v2h-2zM337 217h2v2h-2zM279 218h2v2h-2zM296 218h2v2h-2zM298 218h2v2h-2zM347 218h2v2h-2zM292 219h2v2h-2zM303 219h2v2h-2zM311 219h2v2h-2zM317 219h2v2h-2zM344 219h2v2h-2zM359 219h2v2h-2zM288 220h2v2h-2zM300 220h2v2h-2zM308 220h2v2h-2zM311 220h2v2h-2zM319 220h2v2h-2zM327 220h2v2h-2zM359 220h2v2h-2zM283 221h2v2h-2zM300 221h2v2h-2zM313 221h2v2h-2zM322 221h2v2h-2zM324 221h2v2h-2zM325 221h2v2h-2zM329 221h2v2h-2zM345 221h2v2h-2zM300 222h2v2h-2zM327 222h2v2h-2zM330 222h2v2h-2zM347 222h2v2h-2zM279 223h2v2h-2zM287 223h2v2h-2zM291 223h2v2h-2zM296 223h2v2h-2zM318 223h2v2h-2zM320 223h2v2h-2zM323 223h2v2h-2zM324 223h2v2h-2zM325 223h2v2h-2zM346 223h2v2h-2zM355 223h2v2h-2zM303 224h2v2h-2zM304 224h2v2h-2zM312 224h2v2h-2zM320 224h2v2h-2zM340 224h2v2h-2zM345 224h2v2h-2zM351 224h2v2h-2zM280 225h2v2h-2zM305 225h2v2h-2zM308 225h2v2h-2zM314 225h2v2h-2zM345 225h2v2h-2zM304 226h2v2h-2zM314 226h2v2h-2zM350 226h2v2h-2zM351 226h2v2h-2zM336 227h2v2h-2zM342 227h2v2h-2zM319 228h2v2h-2zM315 229h2v2h-2zM328 229h2v2h-2zM306 230h2v2h-2z"/>
<path fill="#afff00" d="M276 209h2v2h-2zM278 209h2v2h-2zM253 210h2v2h-2zM269 211h2v2h-2zM271 212h2v2h-2zM275 212h2v2h-2zM277 212h2v2h-2zM275 213h2v2h-2zM278 214h2v2h-2zM366 214h2v2h-2zM266 215h2v2h-2zM271 215h2v2h-2zM276 215h2v2h-2zM364 216h2v2h-2zM274 217h2v2h-2zM277 217h2v2h-2zM365 217h2v2h-2zM260 218h2v2h-2zM277 218h2v2h-2zM362 218h2v2h-2zM270 220h2v2h-2zM272 227h2v2h-2zM287 209h2v2h-2zM279 211h2v2h-2zM283 211h2v2h-2zM284 211h2v2h-2zM281 212h2v2h-2zM288 212h2v2h-2zM342 212h2v2h-2zM352 212h2v2h-2zM288 213h2v2h-2zM298 213h2v2h-2zM299 213h2v2h-2zM283 214h2v2h-2zM318 214h2v2h-2zM286 215h2v2h-2zM349 215h2v2h-2zM287 216h2v2h-2zM309 216h2v2h-2zM314 216h2v2h-2zM318 216h2v2h-2zM343 216h2v2h-2zM292 217h2v2h-2zM306 217h2v2h-2zM315 217h2v2h-2zM321 217h2v2h-2zM331 217h2v2h-2zM335 217h2v2h-2zM336 217h2v2h-2zM341 217h2v2h-2zM346 217h2v2h-2zM350 217h2v2h-2zM355 217h2v2h-2zM358 217h2v2h-2zM297 218h2v2h-2zM353 218h2v2h-2zM325 219h2v2h-2zM338 219h2v2h-2zM341 219h2v2h-2zM346 219h2v2h-2zM291 220h2v2h-2zM294 220h2v2h-2zM295 220h2v2h-2zM314 220h2v2h-2zM316 220h2v2h-2zM325 220h2v2h-2zM331 220h2v2h-2zM352 220h2v2h-2zM308 221h2v2h-2zM318 221h2v2h-2zM321 221h2v2h-2zM353 221h2v2h-2zM318 222h2v2h-2zM323 222h2v2h-2zM325 222h2v2h-2zM356 224h2v2h-2zM364 217h2v2h-2z"/>
<path fill="#bfff00" d="M274 198h2v2h-2zM281 198h2v2h-2zM269 204h2v2h-2zM279 204h2v2h-2zM280 204h2v2h-2zM275 205h2v2h-2zM373 205h2v2h-2zM269 206h2v2h-2zM275 206h2v2h-2zM278 206h2v2h-2zM373 206h2v2h-2zM278 207h2v2h-2zM266 208h2v2h-2zM279 208h2v2h-2zM369 209h2v2h-2zM267 210h2v2h-2zM270 210h2v2h-2zM266 211h2v2h-2zM272 211h2v2h-2zM276 211h2v2h-2zM270 213h2v2h-2zM366 213h2v2h-2zM271 214h2v2h-2zM367 216h2v2h-2zM284 208h2v2h-2zM310 208h2v2h-2zM321 208h2v2h-2zM357 208h2v2h-2zM281 209h2v2h-2zM284 209h2v2h-2zM358 209h2v2h-2zM288 210h2v2h-2zM300 210h2v2h-2zM302 210h2v2h-2zM305 210h2v2h-2zM336 210h2v2h-2zM366 210h2v2h-2zM289 211h2v2h-2zM313 211h2v2h-2zM342 211h2v2h-2zM349 211h2v2h-2zM364 211h2v2h-2zM365 211h2v2h-2zM279 212h2v2h-2zM297 212h2v2h-2zM328 212h2v2h-2zM364 212h2v2h-2zM312 213h2v2h-2zM318 213h2v2h-2zM331 213h2v2h-2zM347 213h2v2h-2zM289 214h2v2h-2zM313 214h2v2h-2zM346 214h2v2h-2zM357 214h2v2h-2zM299 215h2v2h-2zM300 215h2v2h-2zM301 215h2v2h-2zM325 215h2v2h-2zM328 215h2v2h-2zM331 215h2v2h-2zM278 216h2v2h-2zM299 216h2v2h-2zM324 216h2v2h-2zM325 216h2v2h-2zM331 216h2v2h-2zM357 216h2v2h-2zM359 216h2v2h-2zM295 217h2v2h-2zM302 217h2v2h-2zM328 217h2v2h-2zM348 217h2v2h-2zM349 217h2v2h-2zM356 217h2v2h-2zM308 218h2v2h-2zM324 218h2v2h-2zM330 218h2v2h-2zM304 219h2v2h-2zM280 220h2v2h-2zM329 220h2v2h-2zM370 210h2v2h-2zM369 212h2v2h-2z"/>
<path fill="#cfff00" d="M382 195h2v2h-2zM381 196h2v2h-2zM272 197h2v2h-2zM267 200h2v2h-2zM278 200h2v2h-2zM374 200h2v2h-2zM265 201h2v2h-2zM280 201h2v2h-2zM281 202h2v2h-2zM279 203h2v2h-2zM281 203h2v2h-2zM282 203h2v2h-2zM373 203h2v2h-2zM277 204h2v2h-2zM281 204h2v2h-2zM373 204h2v2h-2zM280 205h2v2h-2zM281 205h2v2h-2zM378 205h2v2h-2zM371 206h2v2h-2zM374 206h2v2h-2zM375 206h2v2h-2zM278 215h2v2h-2zM371 198h2v2h-2zM292 203h2v2h-2zM336 203h2v2h-2zM365 203h2v2h-2zM341 204h2v2h-2zM285 205h2v2h-2zM286 205h2v2h-2zM294 205h2v2h-2zM290 206h2v2h-2zM291 206h2v2h-2zM299 206h2v2h-2zM320 206h2v2h-2zM358 206h2v2h-2zM292 207h2v2h-2zM334 207h2v2h-2zM346 207h2v2h-2zM361 207h2v2h-2zM298 208h2v2h-2zM302 208h2v2h-2zM312 208h2v2h-2zM314 208h2v2h-2zM360 208h2v2h-2zM283 209h2v2h-2zM307 209h2v2h-2zM309 209h2v2h-2zM316 209h2v2h-2zM338 209h2v2h-2zM351 209h2v2h-2zM360 209h2v2h-2zM362 209h2v2h-2zM365 209h2v2h-2zM289 210h2v2h-2zM297 210h2v2h-2zM318 210h2v2h-2zM323 210h2v2h-2zM331 210h2v2h-2zM333 210h2v2h-2zM340 210h2v2h-2zM351 210h2v2h-2zM358 210h2v2h-2zM334 211h2v2h-2zM339 211h2v2h-2zM286 212h2v2h-2zM329 212h2v2h-2zM360 212h2v2h-2zM320 213h2v2h-2zM336 213h2v2h-2zM339 213h2v2h-2zM351 213h2v2h-2zM302 214h2v2h-2zM330 214h2v2h-2zM324 215h2v2h-2z"/>
<path fill="#dfff00" d="M259 193h2v2h-2zM270 194h2v2h-2zM277 194h2v2h-2zM285 194h2v2h-2zM284 195h2v2h-2zM289 195h2v2h-2zM376 195h2v2h-2zM377 195h2v2h-2zM380 195h2v2h-2zM283 196h2v2h-2zM289 196h2v2h-2zM375 196h2v2h-2zM282 197h2v2h-2zM381 197h2v2h-2zM276 198h2v2h-2zM280 198h2v2h-2zM278 199h2v2h-2zM279 199h2v2h-2zM281 199h2v2h-2zM285 199h2v2h-2zM375 199h2v2h-2zM376 199h2v2h-2zM283 200h2v2h-2zM380 200h2v2h-2zM276 201h2v2h-2zM374 201h2v2h-2zM379 202h2v2h-2zM278 203h2v2h-2zM283 203h2v2h-2zM276 205h2v2h-2zM279 205h2v2h-2zM372 206h2v2h-2zM372 195h2v2h-2zM297 197h2v2h-2zM298 197h2v2h-2zM364 197h2v2h-2zM366 197h2v2h-2zM367 197h2v2h-2zM329 198h2v2h-2zM330 198h2v2h-2zM344 198h2v2h-2zM287 200h2v2h-2zM289 200h2v2h-2zM290 200h2v2h-2zM292 200h2v2h-2zM305 200h2v2h-2zM358 200h2v2h-2zM373 200h2v2h-2zM297 201h2v2h-2zM303 201h2v2h-2zM319 201h2v2h-2zM357 201h2v2h-2zM370 201h2v2h-2zM301 202h2v2h-2zM356 202h2v2h-2zM369 202h2v2h-2zM291 203h2v2h-2zM297 203h2v2h-2zM299 203h2v2h-2zM316 203h2v2h-2zM324 203h2v2h-2zM332 203h2v2h-2zM338 203h2v2h-2zM303 204h2v2h-2zM309 204h2v2h-2zM313 204h2v2h-2zM344 204h2v2h-2zM345 204h2v2h-2zM360 204h2v2h-2zM371 204h2v2h-2zM300 205h2v2h-2zM303 205h2v2h-2zM318 205h2v2h-2zM336 205h2v2h-2zM346 205h2v2h-2zM300 206h2v2h-2zM305 206h2v2h-2zM314 206h2v2h-2zM318 206h2v2h-2zM324 206h2v2h-2zM331 206h2v2h-2zM339 206h2v2h-2zM345 206h2v2h-2zM347 206h2v2h-2zM363 206h2v2h-2zM303 207h2v2h-2zM324 207h2v2h-2zM327 207h2v2h-2zM349 207h2v2h-2zM355 207h2v2h-2zM369 207h2v2h-2zM299 208h2v2h-2zM315 208h2v2h-2zM316 208h2v2h-2zM318 208h2v2h-2zM326 208h2v2h-2zM313 209h2v2h-2zM320 209h2v2h-2zM331 209h2v2h-2zM359 210h2v2h-2zM319 211h2v2h-2zM352 211h2v2h-2zM359 211h2v2h-2zM349 213h2v2h-2z"/>
<path fill="#efff00" d="M371 182h2v2h-2zM275 188h2v2h-2zM278 188h2v2h-2zM268 190h2v2h-2zM274 191h2v2h-2zM283 191h2v2h-2zM288 192h2v2h-2zM387 192h2v2h-2zM281 193h2v2h-2zM289 193h2v2h-2zM383 193h2v2h-2zM382 194h2v2h-2zM285 195h2v2h-2zM286 195h2v2h-2zM288 195h2v2h-2zM281 196h2v2h-2zM284 196h2v2h-2zM288 196h2v2h-2zM377 197h2v2h-2zM377 199h2v2h-2zM286 200h2v2h-2zM376 200h2v2h-2zM282 201h2v2h-2zM377 201h2v2h-2zM379 201h2v2h-2zM375 202h2v2h-2zM294 189h2v2h-2zM315 189h2v2h-2zM301 192h2v2h-2zM322 192h2v2h-2zM364 192h2v2h-2zM320 194h2v2h-2zM351 194h2v2h-2zM369 194h2v2h-2zM372 194h2v2h-2zM311 196h2v2h-2zM346 196h2v2h-2zM351 196h2v2h-2zM348 197h2v2h-2zM350 197h2v2h-2zM371 197h2v2h-2zM373 197h2v2h-2zM323 198h2v2h-2zM324 198h2v2h-2zM297 199h2v2h-2zM304 199h2v2h-2zM305 199h2v2h-2zM312 199h2v2h-2zM332 199h2v2h-2zM342 199h2v2h-2zM351 199h2v2h-2zM353 199h2v2h-2zM363 199h2v2h-2zM368 199h2v2h-2zM371 199h2v2h-2zM372 199h2v2h-2zM293 200h2v2h-2zM298 200h2v2h-2zM312 200h2v2h-2zM320 200h2v2h-2zM324 200h2v2h-2zM335 200h2v2h-2zM337 200h2v2h-2zM354 200h2v2h-2zM355 200h2v2h-2zM357 200h2v2h-2zM294 201h2v2h-2zM295 201h2v2h-2zM306 201h2v2h-2zM314 201h2v2h-2zM315 201h2v2h-2zM330 201h2v2h-2zM338 201h2v2h-2zM355 201h2v2h-2zM360 201h2v2h-2zM297 202h2v2h-2zM325 202h2v2h-2zM334 202h2v2h-2zM336 202h2v2h-2zM352 202h2v2h-2zM353 202h2v2h-2zM366 202h2v2h-2zM315 203h2v2h-2zM360 203h2v2h-2zM307 204h2v2h-2zM321 204h2v2h-2zM346 204h2v2h-2zM349 204h2v2h-2zM352 204h2v2h-2zM359 204h2v2h-2zM369 204h2v2h-2zM301 205h2v2h-2zM314 205h2v2h-2zM347 205h2v2h-2zM350 205h2v2h-2zM332 206h2v2h-2zM337 206h2v2h-2zM361 206h2v2h-2z"/>
<path fill="#ff1000" d="M360 141h2v2h-2zM357 143h2v2h-2zM330 148h2v2h-2z"/>
<path fill="#ff2000" d="M352 147h2v2h-2zM336 150h2v2h-2zM337 150h2v2h-2zM350 151h2v2h-2zM373 155h2v2h-2zM347 156h2v2h-2zM320 162h2v2h-2zM392 124h2v2h-2zM365 133h2v2h-2zM272 138h2v2h-2z"/>
<path fill="#ff3000" d="M400 135h2v2h-2zM373 148h2v2h-2zM318 149h2v2h-2zM356 152h2v2h-2zM309 153h2v2h-2zM317 153h2v2h-2zM354 155h2v2h-2zM332 156h2v2h-2zM303 158h2v2h-2zM320 158h2v2h-2zM351 158h2v2h-2zM359 158h2v2h-2zM330 159h2v2h-2zM342 159h2v2h-2zM381 159h2v2h-2zM337 161h2v2h-2zM340 162h2v2h-2zM342 163h2v2h-2zM351 163h2v2h-2zM335 166h2v2h-2zM396 128h2v2h-2zM370 137h2v2h-2zM374 140h2v2h-2z"/>
<path fill="#ff4000" d="M401 133h2v2h-2zM397 138h2v2h-2zM342 143h2v2h-2zM396 144h2v2h-2zM382 146h2v2h-2zM313 147h2v2h-2zM379 148h2v2h-2zM359 149h2v2h-2zM395 151h2v2h-2zM393 152h2v2h-2zM346 153h2v2h-2zM403 153h2v2h-2zM353 154h2v2h-2zM380 154h2v2h-2zM383 154h2v2h-2zM395 154h2v2h-2zM368 155h2v2h-2zM314 157h2v2h-2zM323 157h2v2h-2zM337 157h2v2h-2zM330 158h2v2h-2zM357 158h2v2h-2zM361 158h2v2h-2zM385 158h2v2h-2zM319 159h2v2h-2zM339 159h2v2h-2zM315 160h2v2h-2zM317 160h2v2h-2zM378 160h2v2h-2zM328 161h2v2h-2zM348 162h2v2h-2zM399 162h2v2h-2zM327 163h2v2h-2zM345 163h2v2h-2zM301 164h2v2h-2zM338 164h2v2h-2zM359 164h2v2h-2zM363 164h2v2h-2zM314 166h2v2h-2zM321 167h2v2h-2zM377 167h2v2h-2zM323 169h2v2h-2zM418 117h2v2h-2zM400 131h2v2h-2zM397 135h2v2h-2zM379 142h2v2h-2zM372 144h2v2h-2zM377 145h2v2h-2zM376 147h2v2h-2zM372 148h2v2h-2zM281 149h2v2h-2z"/>
<path fill="#ff5000" d="M388 142h2v2h-2zM390 142h2v2h-2zM406 146h2v2h-2zM373 147h2v2h-2zM305 150h2v2h-2zM337 152h2v2h-2zM374 153h2v2h-2zM349 156h2v2h-2zM355 156h2v2h-2zM344 157h2v2h-2zM351 157h2v2h-2zM360 157h2v2h-2zM366 157h2v2h-2zM308 158h2v2h-2zM356 158h2v2h-2zM364 158h2v2h-2zM333 159h2v2h-2zM338 159h2v2h-2zM348 159h2v2h-2zM355 159h2v2h-2zM314 160h2v2h-2zM329 160h2v2h-2zM336 160h2v2h-2zM369 160h2v2h-2zM310 161h2v2h-2zM316 161h2v2h-2zM375 161h2v2h-2zM308 162h2v2h-2zM335 162h2v2h-2zM297 163h2v2h-2zM352 163h2v2h-2zM382 163h2v2h-2zM311 164h2v2h-2zM319 164h2v2h-2zM348 164h2v2h-2zM334 165h2v2h-2zM344 165h2v2h-2zM370 165h2v2h-2zM297 166h2v2h-2zM319 166h2v2h-2zM339 166h2v2h-2zM372 166h2v2h-2zM341 167h2v2h-2zM343 167h2v2h-2zM345 167h2v2h-2zM350 167h2v2h-2zM364 167h2v2h-2zM328 169h2v2h-2zM337 169h2v2h-2zM350 169h2v2h-2zM311 170h2v2h-2zM353 170h2v2h-2zM360 170h2v2h-2zM393 170h2v2h-2zM365 171h2v2h-2zM422 120h2v2h-2zM423 127h2v2h-2zM403 136h2v2h-2zM398 139h2v2h-2zM402 140h2v2h-2zM407 138h2v2h-2zM397 143h2v2h-2zM380 147h2v2h-2zM386 149h2v2h-2zM377 151h2v2h-2zM372 153h2v2h-2zM372 155h2v2h-2zM266 157h2v2h-2z"/>
<path fill="#ff6000" d="M353 148h2v2h-2zM346 151h2v2h-2zM370 152h2v2h-2zM363 153h2v2h-2zM325 156h2v2h-2zM383 157h2v2h-2zM333 158h2v2h-2zM368 158h2v2h-2zM377 158h2v2h-2zM307 159h2v2h-2zM346 159h2v2h-2zM303 160h2v2h-2zM318 160h2v2h-2zM320 160h2v2h-2zM366 160h2v2h-2zM319 161h2v2h-2zM343 161h2v2h-2zM346 161h2v2h-2zM374 161h2v2h-2zM378 161h2v2h-2zM337 162h2v2h-2zM342 162h2v2h-2zM379 162h2v2h-2zM384 162h2v2h-2zM332 163h2v2h-2zM334 163h2v2h-2zM364 163h2v2h-2zM310 164h2v2h-2zM316 164h2v2h-2zM354 164h2v2h-2zM355 164h2v2h-2zM367 164h2v2h-2zM386 164h2v2h-2zM313 165h2v2h-2zM348 165h2v2h-2zM364 165h2v2h-2zM379 165h2v2h-2zM304 166h2v2h-2zM318 166h2v2h-2zM321 166h2v2h-2zM358 166h2v2h-2zM323 167h2v2h-2zM328 167h2v2h-2zM331 167h2v2h-2zM361 167h2v2h-2zM308 168h2v2h-2zM315 168h2v2h-2zM316 168h2v2h-2zM335 168h2v2h-2zM355 168h2v2h-2zM364 168h2v2h-2zM325 169h2v2h-2zM334 169h2v2h-2zM339 169h2v2h-2zM341 169h2v2h-2zM343 169h2v2h-2zM344 169h2v2h-2zM349 169h2v2h-2zM322 170h2v2h-2zM324 170h2v2h-2zM327 170h2v2h-2zM332 170h2v2h-2zM340 170h2v2h-2zM311 171h2v2h-2zM328 171h2v2h-2zM337 171h2v2h-2zM301 172h2v2h-2zM353 173h2v2h-2zM375 173h2v2h-2zM307 175h2v2h-2zM305 176h2v2h-2zM314 174h2v2h-2zM423 131h2v2h-2zM423 134h2v2h-2zM429 128h2v2h-2zM403 143h2v2h-2zM408 144h2v2h-2zM397 145h2v2h-2zM402 146h2v2h-2zM397 150h2v2h-2zM381 153h2v2h-2zM389 152h2v2h-2zM393 153h2v2h-2zM376 156h2v2h-2zM379 156h2v2h-2zM384 156h2v2h-2zM387 156h2v2h-2z"/>
<path fill="#ff7000" d="M405 149h2v2h-2zM391 152h2v2h-2zM357 153h2v2h-2zM327 155h2v2h-2zM328 155h2v2h-2zM342 155h2v2h-2zM319 156h2v2h-2zM393 156h2v2h-2zM395 156h2v2h-2zM401 157h2v2h-2zM315 158h2v2h-2zM352 158h2v2h-2zM387 158h2v2h-2zM389 158h2v2h-2zM365 159h2v2h-2zM371 160h2v2h-2zM381 160h2v2h-2zM304 161h2v2h-2zM314 161h2v2h-2zM348 161h2v2h-2zM293 162h2v2h-2zM315 162h2v2h-2zM375 162h2v2h-2zM383 162h2v2h-2zM406 162h2v2h-2zM311 163h2v2h-2zM348 163h2v2h-2zM349 163h2v2h-2zM340 164h2v2h-2zM345 164h2v2h-2zM379 164h2v2h-2zM382 164h2v2h-2zM390 164h2v2h-2zM306 165h2v2h-2zM312 165h2v2h-2zM318 165h2v2h-2zM333 165h2v2h-2zM320 166h2v2h-2zM332 166h2v2h-2zM333 166h2v2h-2zM337 166h2v2h-2zM342 166h2v2h-2zM344 166h2v2h-2zM351 166h2v2h-2zM318 167h2v2h-2zM339 167h2v2h-2zM354 167h2v2h-2zM368 167h2v2h-2zM295 168h2v2h-2zM306 168h2v2h-2zM307 168h2v2h-2zM322 168h2v2h-2zM330 168h2v2h-2zM336 168h2v2h-2zM340 168h2v2h-2zM345 168h2v2h-2zM346 168h2v2h-2zM349 168h2v2h-2zM369 168h2v2h-2zM370 168h2v2h-2zM374 168h2v2h-2zM375 168h2v2h-2zM306 169h2v2h-2zM314 169h2v2h-2zM318 169h2v2h-2zM321 169h2v2h-2zM365 169h2v2h-2zM386 169h2v2h-2zM306 170h2v2h-2zM329 170h2v2h-2zM341 170h2v2h-2zM364 170h2v2h-2zM366 170h2v2h-2zM370 170h2v2h-2zM313 171h2v2h-2zM332 171h2v2h-2zM334 171h2v2h-2zM342 171h2v2h-2zM369 171h2v2h-2zM387 171h2v2h-2zM314 172h2v2h-2zM366 172h2v2h-2zM380 172h2v2h-2zM357 174h2v2h-2zM372 174h2v2h-2zM303 176h2v2h-2zM363 176h2v2h-2zM365 176h2v2h-2zM291 177h2v2h-2zM335 173h2v2h-2zM313 174h2v2h-2zM322 174h2v2h-2zM321 175h2v2h-2zM351 175h2v2h-2zM326 176h2v2h-2zM331 177h2v2h-2zM353 178h2v2h-2zM423 137h2v2h-2zM422 142h2v2h-2zM414 143h2v2h-2zM409 147h2v2h-2zM403 149h2v2h-2zM402 153h2v2h-2zM395 159h2v2h-2z"/>
<path fill="#ff8000" d="M405 144h2v2h-2zM395 146h2v2h-2zM390 150h2v2h-2zM398 150h2v2h-2zM400 150h2v2h-2zM340 153h2v2h-2zM404 155h2v2h-2zM401 156h2v2h-2zM404 156h2v2h-2zM329 157h2v2h-2zM374 157h2v2h-2zM402 157h2v2h-2zM396 158h2v2h-2zM362 160h2v2h-2zM363 160h2v2h-2zM387 160h2v2h-2zM358 161h2v2h-2zM384 161h2v2h-2zM395 161h2v2h-2zM359 162h2v2h-2zM309 163h2v2h-2zM354 163h2v2h-2zM389 163h2v2h-2zM336 164h2v2h-2zM324 165h2v2h-2zM337 165h2v2h-2zM346 165h2v2h-2zM367 165h2v2h-2zM377 165h2v2h-2zM313 166h2v2h-2zM326 166h2v2h-2zM346 166h2v2h-2zM319 167h2v2h-2zM320 167h2v2h-2zM346 167h2v2h-2zM353 167h2v2h-2zM378 167h2v2h-2zM380 167h2v2h-2zM339 168h2v2h-2zM368 168h2v2h-2zM389 168h2v2h-2zM317 169h2v2h-2zM322 169h2v2h-2zM330 169h2v2h-2zM338 169h2v2h-2zM356 169h2v2h-2zM370 169h2v2h-2zM377 169h2v2h-2zM381 169h2v2h-2zM303 170h2v2h-2zM309 170h2v2h-2zM326 170h2v2h-2zM333 170h2v2h-2zM343 170h2v2h-2zM344 170h2v2h-2zM355 170h2v2h-2zM300 171h2v2h-2zM322 171h2v2h-2zM326 171h2v2h-2zM335 171h2v2h-2zM338 171h2v2h-2zM345 171h2v2h-2zM350 171h2v2h-2zM300 172h2v2h-2zM312 172h2v2h-2zM313 172h2v2h-2zM375 172h2v2h-2zM378 172h2v2h-2zM387 172h2v2h-2zM300 173h2v2h-2zM349 173h2v2h-2zM362 173h2v2h-2zM363 173h2v2h-2zM289 174h2v2h-2zM360 174h2v2h-2zM303 175h2v2h-2zM358 176h2v2h-2zM359 176h2v2h-2zM370 176h2v2h-2zM385 176h2v2h-2zM372 177h2v2h-2zM374 177h2v2h-2zM392 177h2v2h-2zM370 178h2v2h-2zM372 178h2v2h-2zM292 179h2v2h-2zM373 180h2v2h-2zM371 181h2v2h-2zM293 183h2v2h-2zM319 172h2v2h-2zM325 172h2v2h-2zM337 172h2v2h-2zM323 173h2v2h-2zM339 173h2v2h-2zM330 174h2v2h-2zM312 177h2v2h-2zM334 178h2v2h-2zM314 179h2v2h-2zM320 179h2v2h-2zM312 180h2v2h-2zM348 181h2v2h-2zM408 152h2v2h-2zM403 155h2v2h-2zM408 156h2v2h-2zM402 156h2v2h-2zM403 158h2v2h-2zM403 161h2v2h-2z"/>
<path fill="#ff8f00" d="M323 158h2v2h-2zM392 158h2v2h-2zM393 159h2v2h-2zM380 161h2v2h-2zM310 162h2v2h-2zM345 162h2v2h-2zM357 162h2v2h-2zM360 162h2v2h-2zM374 163h2v2h-2zM295 164h2v2h-2zM366 164h2v2h-2zM376 164h2v2h-2zM309 165h2v2h-2zM369 165h2v2h-2zM292 166h2v2h-2zM352 166h2v2h-2zM370 166h2v2h-2zM302 167h2v2h-2zM370 167h2v2h-2zM373 167h2v2h-2zM318 168h2v2h-2zM343 168h2v2h-2zM348 168h2v2h-2zM353 168h2v2h-2zM381 168h2v2h-2zM385 168h2v2h-2zM298 169h2v2h-2zM312 169h2v2h-2zM327 169h2v2h-2zM329 169h2v2h-2zM348 169h2v2h-2zM352 169h2v2h-2zM384 169h2v2h-2zM301 170h2v2h-2zM380 170h2v2h-2zM383 170h2v2h-2zM297 171h2v2h-2zM310 171h2v2h-2zM329 171h2v2h-2zM333 171h2v2h-2zM361 171h2v2h-2zM364 171h2v2h-2zM378 171h2v2h-2zM392 171h2v2h-2zM308 172h2v2h-2zM346 172h2v2h-2zM351 172h2v2h-2zM353 172h2v2h-2zM361 172h2v2h-2zM383 172h2v2h-2zM385 172h2v2h-2zM388 172h2v2h-2zM290 173h2v2h-2zM294 173h2v2h-2zM301 173h2v2h-2zM306 173h2v2h-2zM308 173h2v2h-2zM309 173h2v2h-2zM312 173h2v2h-2zM352 173h2v2h-2zM356 173h2v2h-2zM360 173h2v2h-2zM371 173h2v2h-2zM374 173h2v2h-2zM379 173h2v2h-2zM298 174h2v2h-2zM305 174h2v2h-2zM361 174h2v2h-2zM384 174h2v2h-2zM392 174h2v2h-2zM304 175h2v2h-2zM305 175h2v2h-2zM383 176h2v2h-2zM301 177h2v2h-2zM361 177h2v2h-2zM366 179h2v2h-2zM379 180h2v2h-2zM294 181h2v2h-2zM301 181h2v2h-2zM327 174h2v2h-2zM342 174h2v2h-2zM330 176h2v2h-2zM332 176h2v2h-2zM343 176h2v2h-2zM348 176h2v2h-2zM315 177h2v2h-2zM319 178h2v2h-2zM351 178h2v2h-2zM321 179h2v2h-2zM336 180h2v2h-2zM325 181h2v2h-2zM403 165h2v2h-2z"/>
<path fill="#ff9f00" d="M398 149h2v2h-2zM412 149h2v2h-2zM381 154h2v2h-2zM394 159h2v2h-2zM361 165h2v2h-2zM372 165h2v2h-2zM378 165h2v2h-2zM397 165h2v2h-2zM301 166h2v2h-2zM323 166h2v2h-2zM349 166h2v2h-2zM378 166h2v2h-2zM322 167h2v2h-2zM325 167h2v2h-2zM356 167h2v2h-2zM366 168h2v2h-2zM371 168h2v2h-2zM367 169h2v2h-2zM376 169h2v2h-2zM392 169h2v2h-2zM372 170h2v2h-2zM292 171h2v2h-2zM314 171h2v2h-2zM272 172h2v2h-2zM347 172h2v2h-2zM348 172h2v2h-2zM354 172h2v2h-2zM355 172h2v2h-2zM362 172h2v2h-2zM390 172h2v2h-2zM293 173h2v2h-2zM310 173h2v2h-2zM357 173h2v2h-2zM358 173h2v2h-2zM274 174h2v2h-2zM282 174h2v2h-2zM303 174h2v2h-2zM353 174h2v2h-2zM354 174h2v2h-2zM355 174h2v2h-2zM371 174h2v2h-2zM389 174h2v2h-2zM286 175h2v2h-2zM293 175h2v2h-2zM365 175h2v2h-2zM367 175h2v2h-2zM378 175h2v2h-2zM381 175h2v2h-2zM382 175h2v2h-2zM389 175h2v2h-2zM302 176h2v2h-2zM366 176h2v2h-2zM389 176h2v2h-2zM390 176h2v2h-2zM303 177h2v2h-2zM380 177h2v2h-2zM381 177h2v2h-2zM300 179h2v2h-2zM289 181h2v2h-2zM367 181h2v2h-2zM390 181h2v2h-2zM369 182h2v2h-2zM294 183h2v2h-2zM371 183h2v2h-2zM376 184h2v2h-2zM348 174h2v2h-2zM310 175h2v2h-2zM308 176h2v2h-2zM320 176h2v2h-2zM335 176h2v2h-2zM346 176h2v2h-2zM350 176h2v2h-2zM338 177h2v2h-2zM339 177h2v2h-2zM344 177h2v2h-2zM316 178h2v2h-2zM351 179h2v2h-2zM352 179h2v2h-2zM313 180h2v2h-2zM317 182h2v2h-2zM344 182h2v2h-2zM325 183h2v2h-2zM310 184h2v2h-2zM327 184h2v2h-2zM314 185h2v2h-2zM330 185h2v2h-2zM403 168h2v2h-2z"/>
<path fill="#ffaf00" d="M398 155h2v2h-2zM386 163h2v2h-2zM390 163h2v2h-2zM304 165h2v2h-2zM386 165h2v2h-2zM390 165h2v2h-2zM299 166h2v2h-2zM303 167h2v2h-2zM376 167h2v2h-2zM350 168h2v2h-2zM335 169h2v2h-2zM340 169h2v2h-2zM368 169h2v2h-2zM379 169h2v2h-2zM288 170h2v2h-2zM334 170h2v2h-2zM375 170h2v2h-2zM304 171h2v2h-2zM336 171h2v2h-2zM360 171h2v2h-2zM385 171h2v2h-2zM393 171h2v2h-2zM341 172h2v2h-2zM373 172h2v2h-2zM354 173h2v2h-2zM351 174h2v2h-2zM370 174h2v2h-2zM374 174h2v2h-2zM379 174h2v2h-2zM395 174h2v2h-2zM363 175h2v2h-2zM368 175h2v2h-2zM279 176h2v2h-2zM364 177h2v2h-2zM382 177h2v2h-2zM390 177h2v2h-2zM293 178h2v2h-2zM361 178h2v2h-2zM363 178h2v2h-2zM364 178h2v2h-2zM283 179h2v2h-2zM294 179h2v2h-2zM295 179h2v2h-2zM373 179h2v2h-2zM390 179h2v2h-2zM294 180h2v2h-2zM300 180h2v2h-2zM375 180h2v2h-2zM383 180h2v2h-2zM289 182h2v2h-2zM293 182h2v2h-2zM292 183h2v2h-2zM297 183h2v2h-2zM295 184h2v2h-2zM293 185h2v2h-2zM311 174h2v2h-2zM312 174h2v2h-2zM333 176h2v2h-2zM356 176h2v2h-2zM346 177h2v2h-2zM358 177h2v2h-2zM306 178h2v2h-2zM324 178h2v2h-2zM340 178h2v2h-2zM342 178h2v2h-2zM347 179h2v2h-2zM330 180h2v2h-2zM333 180h2v2h-2zM304 182h2v2h-2zM345 182h2v2h-2zM324 183h2v2h-2zM346 183h2v2h-2zM305 185h2v2h-2zM324 185h2v2h-2zM325 185h2v2h-2zM341 185h2v2h-2zM305 186h2v2h-2zM322 186h2v2h-2zM365 186h2v2h-2zM300 188h2v2h-2zM309 188h2v2h-2zM329 189h2v2h-2zM360 189h2v2h-2zM337 190h2v2h-2zM257 182h2v2h-2z"/>
<path fill="#ffbf00" d="M391 165h2v2h-2zM314 170h2v2h-2zM362 171h2v2h-2zM296 172h2v2h-2zM384 172h2v2h-2zM288 173h2v2h-2zM303 173h2v2h-2zM264 174h2v2h-2zM293 174h2v2h-2zM356 174h2v2h-2zM387 174h2v2h-2zM373 175h2v2h-2zM387 175h2v2h-2zM304 177h2v2h-2zM371 177h2v2h-2zM375 177h2v2h-2zM393 177h2v2h-2zM300 178h2v2h-2zM302 178h2v2h-2zM365 178h2v2h-2zM381 178h2v2h-2zM392 178h2v2h-2zM364 179h2v2h-2zM375 179h2v2h-2zM387 179h2v2h-2zM302 180h2v2h-2zM371 180h2v2h-2zM384 180h2v2h-2zM389 180h2v2h-2zM393 180h2v2h-2zM300 181h2v2h-2zM372 181h2v2h-2zM391 181h2v2h-2zM393 181h2v2h-2zM298 182h2v2h-2zM299 182h2v2h-2zM393 182h2v2h-2zM287 183h2v2h-2zM290 183h2v2h-2zM387 183h2v2h-2zM280 184h2v2h-2zM377 184h2v2h-2zM372 185h2v2h-2zM388 186h2v2h-2zM375 187h2v2h-2zM373 188h2v2h-2zM376 189h2v2h-2zM324 176h2v2h-2zM307 178h2v2h-2zM350 179h2v2h-2zM323 180h2v2h-2zM361 180h2v2h-2zM363 181h2v2h-2zM348 183h2v2h-2zM318 184h2v2h-2zM324 184h2v2h-2zM364 184h2v2h-2zM368 184h2v2h-2zM306 185h2v2h-2zM353 185h2v2h-2zM356 185h2v2h-2zM360 185h2v2h-2zM350 186h2v2h-2zM322 187h2v2h-2zM337 187h2v2h-2zM345 187h2v2h-2zM318 188h2v2h-2zM319 188h2v2h-2zM348 188h2v2h-2zM361 188h2v2h-2zM323 189h2v2h-2zM349 189h2v2h-2zM355 189h2v2h-2zM356 189h2v2h-2zM314 190h2v2h-2zM320 190h2v2h-2zM340 190h2v2h-2zM366 190h2v2h-2zM294 191h2v2h-2zM328 192h2v2h-2zM310 193h2v2h-2zM323 196h2v2h-2z"/>
<path fill="#ffcf00" d="M313 169h2v2h-2zM369 169h2v2h-2zM397 171h2v2h-2zM304 173h2v2h-2zM398 174h2v2h-2zM282 175h2v2h-2zM275 176h2v2h-2zM297 176h2v2h-2zM361 176h2v2h-2zM384 176h2v2h-2zM267 177h2v2h-2zM368 177h2v2h-2zM377 177h2v2h-2zM384 177h2v2h-2zM377 178h2v2h-2zM386 178h2v2h-2zM388 178h2v2h-2zM279 179h2v2h-2zM385 179h2v2h-2zM368 180h2v2h-2zM376 180h2v2h-2zM370 181h2v2h-2zM376 181h2v2h-2zM378 181h2v2h-2zM368 182h2v2h-2zM281 183h2v2h-2zM390 183h2v2h-2zM287 184h2v2h-2zM298 184h2v2h-2zM378 184h2v2h-2zM280 185h2v2h-2zM282 185h2v2h-2zM288 185h2v2h-2zM291 185h2v2h-2zM295 185h2v2h-2zM296 185h2v2h-2zM376 186h2v2h-2zM293 187h2v2h-2zM295 187h2v2h-2zM373 187h2v2h-2zM381 187h2v2h-2zM279 188h2v2h-2zM286 188h2v2h-2zM293 188h2v2h-2zM380 189h2v2h-2zM382 189h2v2h-2zM385 189h2v2h-2zM386 189h2v2h-2zM337 174h2v2h-2zM333 178h2v2h-2zM317 180h2v2h-2zM327 180h2v2h-2zM329 180h2v2h-2zM312 181h2v2h-2zM353 182h2v2h-2zM354 182h2v2h-2zM301 183h2v2h-2zM310 183h2v2h-2zM361 183h2v2h-2zM322 184h2v2h-2zM344 184h2v2h-2zM358 184h2v2h-2zM362 184h2v2h-2zM342 185h2v2h-2zM350 185h2v2h-2zM331 186h2v2h-2zM310 187h2v2h-2zM331 187h2v2h-2zM354 187h2v2h-2zM366 187h2v2h-2zM304 188h2v2h-2zM301 189h2v2h-2zM315 190h2v2h-2zM342 190h2v2h-2zM353 190h2v2h-2zM357 190h2v2h-2zM300 191h2v2h-2zM304 191h2v2h-2zM320 192h2v2h-2zM336 193h2v2h-2zM335 194h2v2h-2zM360 194h2v2h-2zM331 195h2v2h-2zM332 198h2v2h-2z"/>
<path fill="#ffdf00" d="M386 168h2v2h-2zM386 175h2v2h-2zM363 177h2v2h-2zM370 177h2v2h-2zM375 178h2v2h-2zM384 178h2v2h-2zM396 178h2v2h-2zM381 179h2v2h-2zM387 180h2v2h-2zM392 180h2v2h-2zM298 181h2v2h-2zM294 182h2v2h-2zM289 183h2v2h-2zM292 184h2v2h-2zM293 184h2v2h-2zM272 185h2v2h-2zM287 185h2v2h-2zM373 185h2v2h-2zM374 185h2v2h-2zM378 185h2v2h-2zM285 186h2v2h-2zM372 186h2v2h-2zM375 186h2v2h-2zM389 186h2v2h-2zM273 187h2v2h-2zM288 187h2v2h-2zM292 187h2v2h-2zM374 187h2v2h-2zM387 187h2v2h-2zM281 188h2v2h-2zM386 188h2v2h-2zM288 189h2v2h-2zM377 190h2v2h-2zM282 191h2v2h-2zM291 191h2v2h-2zM380 192h2v2h-2zM280 193h2v2h-2zM379 195h2v2h-2zM357 181h2v2h-2zM357 182h2v2h-2zM313 183h2v2h-2zM339 183h2v2h-2zM306 186h2v2h-2zM320 186h2v2h-2zM295 188h2v2h-2zM313 188h2v2h-2zM360 188h2v2h-2zM326 189h2v2h-2zM330 189h2v2h-2zM340 189h2v2h-2zM300 190h2v2h-2zM301 190h2v2h-2zM307 190h2v2h-2zM324 190h2v2h-2zM328 190h2v2h-2zM334 190h2v2h-2zM358 190h2v2h-2zM308 191h2v2h-2zM295 192h2v2h-2zM310 192h2v2h-2zM337 192h2v2h-2zM368 192h2v2h-2zM329 193h2v2h-2zM355 193h2v2h-2zM318 194h2v2h-2zM341 194h2v2h-2zM325 195h2v2h-2zM339 195h2v2h-2zM352 195h2v2h-2zM303 196h2v2h-2z"/>
<path fill="#ffef00" d="M273 178h2v2h-2zM367 180h2v2h-2zM381 181h2v2h-2zM279 182h2v2h-2zM390 182h2v2h-2zM264 183h2v2h-2zM383 184h2v2h-2zM281 187h2v2h-2zM288 188h2v2h-2zM376 188h2v2h-2zM277 189h2v2h-2zM374 189h2v2h-2zM381 189h2v2h-2zM278 190h2v2h-2zM287 190h2v2h-2zM386 190h2v2h-2zM290 191h2v2h-2zM374 191h2v2h-2zM386 191h2v2h-2zM289 192h2v2h-2zM290 192h2v2h-2zM291 192h2v2h-2zM375 193h2v2h-2zM376 193h2v2h-2zM377 193h2v2h-2zM380 193h2v2h-2zM377 194h2v2h-2zM380 196h2v2h-2zM347 181h2v2h-2zM309 182h2v2h-2zM342 184h2v2h-2zM307 185h2v2h-2zM315 185h2v2h-2zM300 186h2v2h-2zM363 186h2v2h-2zM359 187h2v2h-2zM295 189h2v2h-2zM296 189h2v2h-2zM328 189h2v2h-2zM342 189h2v2h-2zM347 189h2v2h-2zM309 191h2v2h-2zM362 191h2v2h-2zM294 192h2v2h-2zM326 192h2v2h-2zM334 193h2v2h-2zM350 193h2v2h-2zM358 193h2v2h-2zM362 193h2v2h-2zM370 193h2v2h-2zM304 194h2v2h-2zM305 194h2v2h-2zM333 194h2v2h-2zM344 194h2v2h-2zM308 195h2v2h-2zM362 195h2v2h-2zM329 196h2v2h-2zM342 196h2v2h-2zM353 196h2v2h-2zM366 196h2v2h-2zM367 196h2v2h-2zM343 197h2v2h-2zM372 197h2v2h-2zM334 198h2v2h-2zM345 198h2v2h-2z"/>
<path fill="#ffff00" d="M268 176h2v2h-2zM298 179h2v2h-2zM299 181h2v2h-2zM276 182h2v2h-2zM382 182h2v2h-2zM272 184h2v2h-2zM381 185h2v2h-2zM268 186h2v2h-2zM275 187h2v2h-2zM384 187h2v2h-2zM390 187h2v2h-2zM285 188h2v2h-2zM285 189h2v2h-2zM287 189h2v2h-2zM293 190h2v2h-2zM382 190h2v2h-2zM292 191h2v2h-2zM377 191h2v2h-2zM277 193h2v2h-2zM286 193h2v2h-2zM381 193h2v2h-2zM289 194h2v2h-2zM290 194h2v2h-2zM378 194h2v2h-2zM385 196h2v2h-2zM284 197h2v2h-2zM282 198h2v2h-2zM285 198h2v2h-2zM280 199h2v2h-2zM284 200h2v2h-2zM372 188h2v2h-2zM299 191h2v2h-2zM320 191h2v2h-2zM356 191h2v2h-2zM298 193h2v2h-2zM309 193h2v2h-2zM330 193h2v2h-2zM338 193h2v2h-2zM331 194h2v2h-2zM340 194h2v2h-2zM326 195h2v2h-2zM334 195h2v2h-2zM300 196h2v2h-2zM304 196h2v2h-2zM317 196h2v2h-2zM328 196h2v2h-2zM338 196h2v2h-2zM370 196h2v2h-2zM311 197h2v2h-2zM359 197h2v2h-2zM318 198h2v2h-2zM338 198h2v2h-2zM350 198h2v2h-2zM306 199h2v2h-2zM309 199h2v2h-2zM318 199h2v2h-2zM323 199h2v2h-2zM366 199h2v2h-2zM303 200h2v2h-2zM331 200h2v2h-2zM344 200h2v2h-2zM320 201h2v2h-2zM332 201h2v2h-2zM359 201h2v2h-2zM339 202h2v2h-2zM349 205h2v2h-2z"/>
<path fill="#000" d="M369 209h1v2h-1zM364 211h2v2h-2zM363 216h1v1h-1zM358 221h2v1h-2zM356 220h2v2h-2zM355 221h1v2h-1zM356 226h1v2h-1zM353 227h2v2h-2zM354 228h2v2h-2zM352 230h2v1h-2zM352 232h1v1h-1zM349 234h1v2h-1zM346 238h1v2h-1zM345 242h2v2h-2zM343 241h2v1h-2zM342 242h1v1h-1zM342 247h2v1h-2zM340 247h2v2h-2zM339 249h2v2h-2zM338 250h2v2h-2zM336 253h1v1h-1zM336 255h2v2h-2zM336 256h2v2h-2zM333 259h2v1h-2zM331 262h2v2h-2zM326 268h2v2h-2zM325 270h2v1h-2zM322 272h2v1h-2zM323 272h2v1h-2zM322 273h2v2h-2zM320 274h1v1h-1zM317 276h1v2h-1zM315 276h1v2h-1zM314 274h1v2h-1zM314 277h2v2h-2zM314 278h1v2h-1zM312 279h2v2h-2zM311 280h2v1h-2zM307 280h1v2h-1zM308 282h2v1h-2zM306 283h2v2h-2zM304 284h2v2h-2zM302 285h1v1h-1zM300 287h2v2h-2zM297 288h2v2h-2zM296 288h2v2h-2zM296 289h2v1h-2zM295 291h1v2h-1zM293 292h1v2h-1zM290 293h1v2h-1zM290 294h2v2h-2zM288 295h2v2h-2zM288 297h2v2h-2zM285 298h1v2h-1zM282 297h2v2h-2zM281 298h1v1h-1zM282 301h2v2h-2zM280 301h2v1h-2zM280 302h1v2h-1zM277 305h2v2h-2z"/></g>
<g class="frame">
<line x1="168.5" y1="432.5" x2="494.5" y2="431.5"/>
<line x1="433.4" y1="368.5" x2="494.5" y2="431.5"/>
<line x1="494.5" y1="431.5" x2="495.5" y2="105.5"/>
<line x1="495.5" y1="105.5" x2="434.6" y2="159.5"/>
<line x1="225.6" y1="368.5" x2="159.5" y2="442.5"/>
<line x1="168.5" y1="432.5" x2="166.4" y2="444.5"/>
<line x1="209.3" y1="432.4" x2="207.5" y2="444.4"/>
<line x1="250.0" y1="432.2" x2="249.2" y2="444.2"/>
<line x1="290.8" y1="432.1" x2="290.8" y2="444.1"/>
<line x1="331.5" y1="432.0" x2="331.5" y2="444.0"/>
<line x1="372.3" y1="431.9" x2="372.6" y2="443.9"/>
<line x1="413.0" y1="431.8" x2="415.3" y2="443.8"/>
<line x1="453.8" y1="431.6" x2="456.2" y2="443.6"/>
<line x1="494.5" y1="431.5" x2="496.7" y2="443.0"/>
<line x1="495.5" y1="105.5" x2="508.0" y2="103.9"/>
<line x1="495.5" y1="138.5" x2="508.0" y2="137.5"/>
<line x1="495.5" y1="171.5" x2="508.0" y2="170.5"/>
<line x1="495.5" y1="204.5" x2="508.0" y2="203.5"/>
<line x1="495.5" y1="237.5" x2="508.0" y2="237.5"/>
<line x1="494.5" y1="269.5" x2="508.0" y2="269.5"/>
<line x1="494.5" y1="301.5" x2="508.0" y2="302.5"/>
<line x1="494.5" y1="334.5" x2="508.0" y2="335.7"/>
<line x1="494.5" y1="367.5" x2="508.0" y2="369.1"/>
<line x1="494.5" y1="400.5" x2="508.0" y2="402.3"/>
<line x1="494.5" y1="432.5" x2="508.0" y2="435.1"/>
<line x1="213.9" y1="380.5" x2="167.5" y2="432.5"/>
</g>
<g class="mk"><path d="M226 112h5v1h1v1h1v5h-1v1h-1v1h-5v-1h-1v-1h-1v-2h-1v-1h1v-2h1v-1h1zM277 119h5v1h1v1h1v5h-1v1h-1v1h-5v-1h-1v-1h-1v-2h-1v-1h1v-2h1v-1h1zM318 141h5v1h1v1h1v5h-1v1h-1v1h-5v-1h-1v-1h-1v-2h-1v-1h1v-2h1v-1h1zM333 133h5v1h1v1h1v5h-1v1h-1v1h-5v-1h-1v-1h-1v-2h-1v-1h1v-2h1v-1h1zM330 148h5v1h1v1h1v5h-1v1h-1v1h-5v-1h-1v-1h-1v-2h-1v-1h1v-2h1v-1h1zM343 148h5v1h1v1h1v5h-1v1h-1v1h-5v-1h-1v-1h-1v-2h-1v-1h1v-2h1v-1h1zM351 153h5v1h1v1h1v5h-1v1h-1v1h-5v-1h-1v-1h-1v-2h-1v-1h1v-2h1v-1h1zM358 137h5v1h1v1h1v5h-1v1h-1v1h-5v-1h-1v-1h-1v-2h-1v-1h1v-2h1v-1h1zM444 108h5v1h1v1h1v5h-1v1h-1v1h-5v-1h-1v-1h-1v-2h-1v-1h1v-2h1v-1h1z"/><rect x="227" y="115" width="2" height="2"/><rect x="278" y="122" width="2" height="2"/><rect x="319" y="144" width="2" height="2"/><rect x="334" y="136" width="2" height="2"/><rect x="445" y="111" width="2" height="2"/></g>
<g class="ov"><rect x="323" y="141" width="2" height="2" fill="#f00"/><rect x="331" y="150" width="2" height="2" fill="#f00"/><rect x="331" y="152" width="2" height="2" fill="#f00"/><rect x="333" y="153" width="2" height="2" fill="#f00"/><rect x="335" y="150" width="2" height="2" fill="#f10"/><rect x="344" y="149" width="2" height="2" fill="#f60"/><rect x="340" y="150" width="2" height="2" fill="#f00"/><rect x="344" y="153" width="2" height="2" fill="#f00"/><rect x="340" y="153" width="2" height="2" fill="#f00"/><rect x="348" y="152" width="2" height="2" fill="#f70"/><rect x="342" y="155" width="2" height="2" fill="#f30"/><rect x="352" y="156" width="2" height="2" fill="#f00"/><rect x="354" y="154" width="2" height="2" fill="#f40"/><rect x="351" y="158" width="2" height="2" fill="#f70"/><rect x="350" y="154" width="2" height="2" fill="#f00"/><rect x="356" y="159" width="2" height="2" fill="#f80"/><rect x="353" y="161" width="2" height="2" fill="#f60"/><rect x="345" y="144" width="2" height="2" fill="#f20"/><rect x="349" y="145" width="2" height="2" fill="#f20"/><rect x="339" y="145" width="2" height="2" fill="#f70"/><rect x="354" y="148" width="2" height="2" fill="#f20"/><rect x="352" y="150" width="2" height="2" fill="#f20"/><rect x="365" y="133" width="2" height="2" fill="#f50"/><rect x="370" y="137" width="2" height="2" fill="#f50"/><rect x="314" y="151" width="2" height="2" fill="#f30"/><rect x="322" y="155" width="2" height="2" fill="#f40"/><rect x="358" y="154" width="2" height="2" fill="#f70"/></g>
<g class="tx"><text x="48.3" y="33.0" textLength="27.2" lengthAdjust="spacingAndGlyphs">1.00</text><text x="48.3" y="333.0" textLength="27.2" lengthAdjust="spacingAndGlyphs">0.50</text><text x="532.9" y="103.0" text-anchor="middle" textLength="27.2" lengthAdjust="spacingAndGlyphs">1.00</text><text x="532.7" y="137.0" text-anchor="middle" textLength="27.2" lengthAdjust="spacingAndGlyphs">0.95</text><text x="532.5" y="170.9" text-anchor="middle" textLength="27.2" lengthAdjust="spacingAndGlyphs">0.90</text><text x="532.3" y="204.8" text-anchor="middle" textLength="27.2" lengthAdjust="spacingAndGlyphs">0.85</text><text x="532.1" y="238.6" text-anchor="middle" textLength="27.2" lengthAdjust="spacingAndGlyphs">0.80</text><text x="531.9" y="272.3" text-anchor="middle" textLength="27.2" lengthAdjust="spacingAndGlyphs">0.75</text><text x="531.7" y="306.0" text-anchor="middle" textLength="27.2" lengthAdjust="spacingAndGlyphs">0.70</text><text x="531.5" y="339.6" text-anchor="middle" textLength="27.2" lengthAdjust="spacingAndGlyphs">0.65</text><text x="531.3" y="373.2" text-anchor="middle" textLength="27.2" lengthAdjust="spacingAndGlyphs">0.60</text><text x="531.1" y="406.7" text-anchor="middle" textLength="27.2" lengthAdjust="spacingAndGlyphs">0.55</text><text x="530.9" y="440.1" text-anchor="middle" textLength="27.2" lengthAdjust="spacingAndGlyphs">0.50</text><text x="162.6" y="464.3" text-anchor="middle">-2</text><text x="205.5" y="464.3" text-anchor="middle">0</text><text x="248.1" y="464.3" text-anchor="middle">2</text><text x="289.6" y="464.3" text-anchor="middle">4</text><text x="330.5" y="464.3" text-anchor="middle">6</text><text x="372.5" y="464.3" text-anchor="middle">8</text><text x="415.7" y="464.3" text-anchor="middle">10</text><text x="457.7" y="464.3" text-anchor="middle">12</text><text x="499.4" y="464.3" text-anchor="middle">14</text><text x="144.1" y="454.6" text-anchor="middle">-2</text><text x="156.5" y="441.3" text-anchor="middle">0</text><text x="168.1" y="430.6" text-anchor="middle">2</text><text x="175.9" y="421.0" text-anchor="middle">4</text><text x="183.5" y="411.6" text-anchor="middle">6</text><text x="191.4" y="404.0" text-anchor="middle">8</text><text x="194.5" y="396.0" text-anchor="middle">10</text><text x="200.5" y="389.0" text-anchor="middle">12</text><text x="205.5" y="383.0" text-anchor="middle">14</text><text x="331.4" y="504.0" text-anchor="middle" textLength="23.8" lengthAdjust="spacingAndGlyphs">Risk</text><text x="135.0" y="431.5" text-anchor="middle" textLength="39.0" lengthAdjust="spacingAndGlyphs">Return</text><text x="585.0" y="272.8" style="font-size:12px;stroke:none;letter-spacing:.3px">リスク低減率</text></g>
</svg>
</body></html>
